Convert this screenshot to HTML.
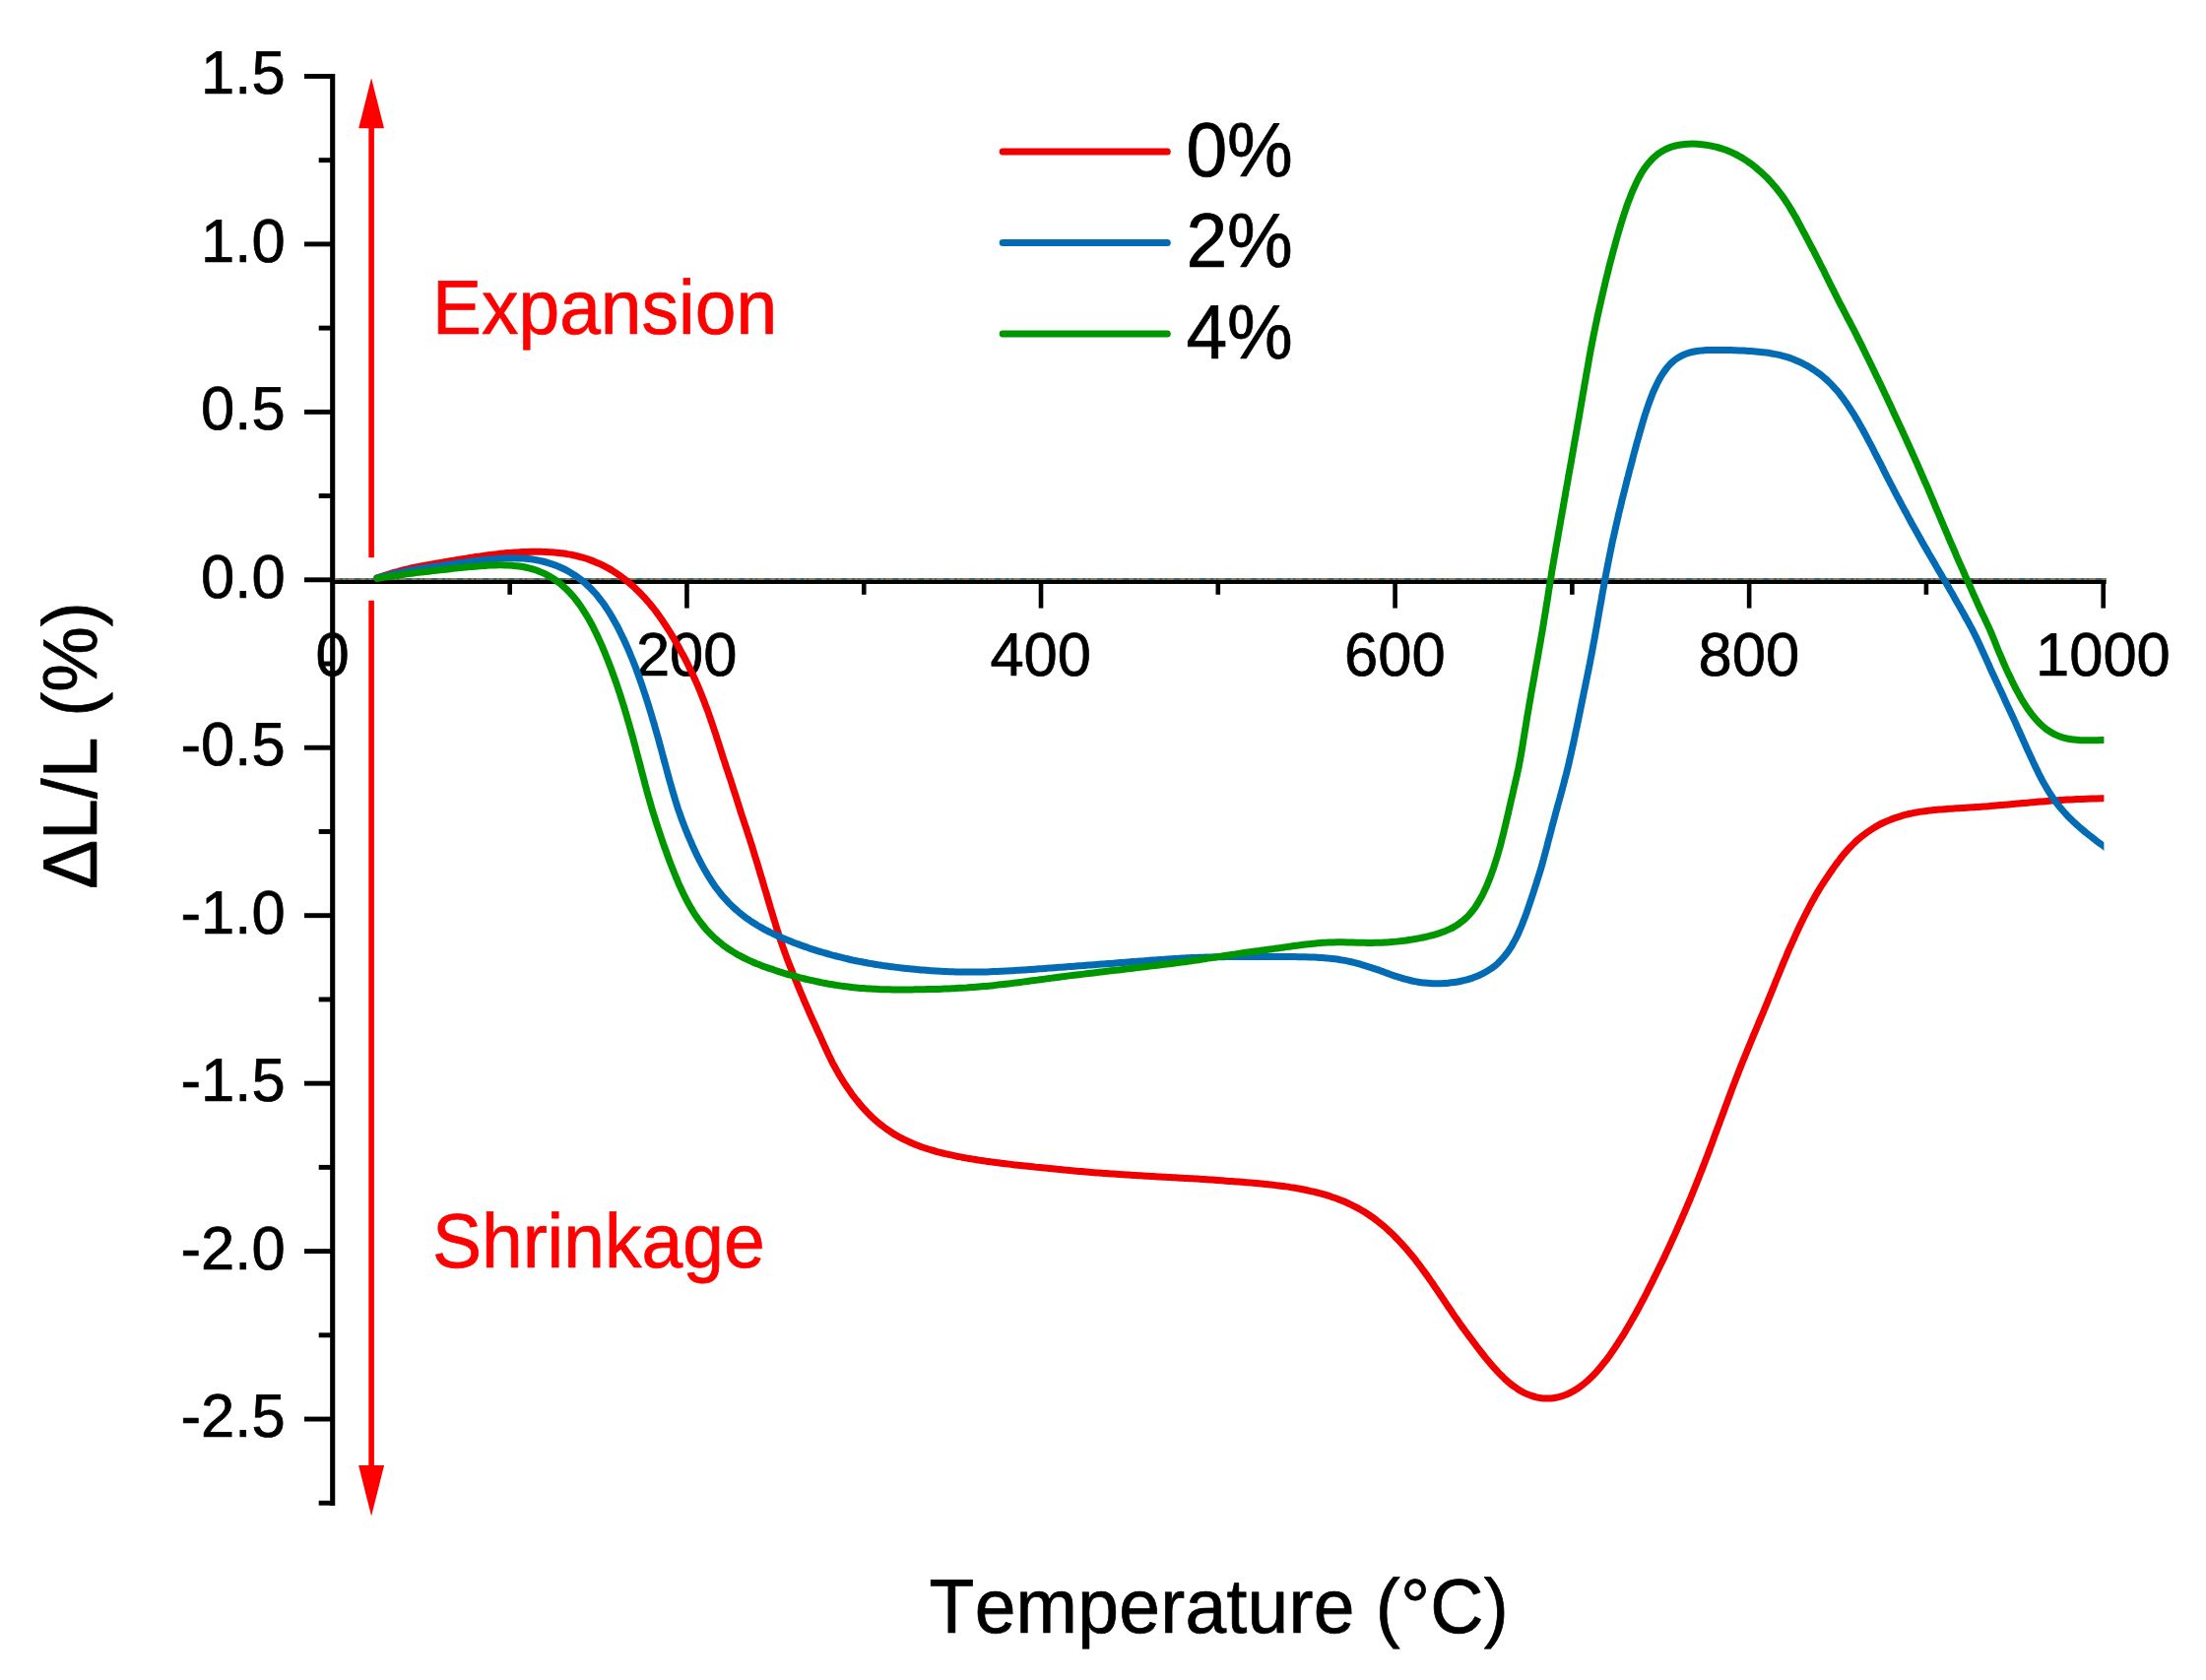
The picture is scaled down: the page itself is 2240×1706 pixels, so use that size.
<!DOCTYPE html>
<html lang="en"><head><meta charset="utf-8"><title>Dilatometry: ΔL/L vs Temperature</title>
<style>
html,body{margin:0;padding:0;background:#fff;}
body{width:2240px;height:1706px;overflow:hidden;}
svg{display:block;}
text{font-family:"Liberation Sans",Arial,Helvetica,sans-serif;fill:#000;stroke:#000;stroke-width:0.70px;stroke-linejoin:round;font-kerning:none;font-variant-ligatures:none;text-rendering:geometricPrecision;}
.tick{font-size:61.5px;}
.big{font-size:75px;}
</style></head><body>
<svg width="2240" height="1706" viewBox="0 0 2240 1706">
<rect width="2240" height="1706" fill="#fff"/>
<defs><clipPath id="plot"><rect x="338.0" y="60" width="1798.4" height="1500"/></clipPath></defs>
<g fill="#ff0000" stroke="none">
<rect x="374.30" y="128" width="5.6" height="438.2"/>
<rect x="374.30" y="609.8" width="5.6" height="880.2"/>
<polygon points="377.1,79.3 364.2,130.2 390.0,130.2"/>
<polygon points="377.1,1539.6 364.1,1488 390.1,1488"/>
</g>
<g fill="#000" stroke="none">
<rect x="335.15" y="75" width="5.1" height="1454.0"/>
<rect x="337.70" y="589.00" width="1801.00" height="4.0"/>
</g>
<g fill="none" stroke-width="2">
<path stroke="#2f6a72" d="M340.2 588 H2138.7"/>
<path stroke="#8a7f58" stroke-dasharray="5 3 3 2 7 6" d="M340.2 588 H2138.7"/>
</g>
<g fill="#000" stroke="none">
<rect x="309.0" y="75.00" width="28.7" height="4.9"/>
<rect x="323.7" y="160.22" width="14.0" height="4.9"/>
<rect x="309.0" y="245.45" width="28.7" height="4.9"/>
<rect x="323.7" y="330.68" width="14.0" height="4.9"/>
<rect x="309.0" y="415.90" width="28.7" height="4.9"/>
<rect x="323.7" y="501.12" width="14.0" height="4.9"/>
<rect x="309.0" y="586.35" width="28.7" height="4.9"/>
<rect x="323.7" y="671.57" width="14.0" height="4.9"/>
<rect x="309.0" y="756.80" width="28.7" height="4.9"/>
<rect x="323.7" y="842.02" width="14.0" height="4.9"/>
<rect x="309.0" y="927.25" width="28.7" height="4.9"/>
<rect x="323.7" y="1012.47" width="14.0" height="4.9"/>
<rect x="309.0" y="1097.70" width="28.7" height="4.9"/>
<rect x="323.7" y="1182.92" width="14.0" height="4.9"/>
<rect x="309.0" y="1268.15" width="28.7" height="4.9"/>
<rect x="323.7" y="1353.37" width="14.0" height="4.9"/>
<rect x="309.0" y="1438.60" width="28.7" height="4.9"/>
<rect x="323.7" y="1523.82" width="14.0" height="4.9"/>
<rect x="515.38" y="591.0" width="4.6" height="12.8"/>
<rect x="695.16" y="591.0" width="4.6" height="26.6"/>
<rect x="874.94" y="591.0" width="4.6" height="12.8"/>
<rect x="1054.72" y="591.0" width="4.6" height="26.6"/>
<rect x="1234.50" y="591.0" width="4.6" height="12.8"/>
<rect x="1414.28" y="591.0" width="4.6" height="26.6"/>
<rect x="1594.06" y="591.0" width="4.6" height="12.8"/>
<rect x="1773.84" y="591.0" width="4.6" height="26.6"/>
<rect x="1953.62" y="591.0" width="4.6" height="12.8"/>
<rect x="2133.40" y="591.0" width="4.6" height="26.6"/>
</g>
<text class="tick" text-anchor="end" transform="translate(289.6 95.4) scale(1 1.010)">1.5</text>
<text class="tick" text-anchor="end" transform="translate(289.6 265.9) scale(1 1.010)">1.0</text>
<text class="tick" text-anchor="end" transform="translate(289.6 436.3) scale(1 1.010)">0.5</text>
<text class="tick" text-anchor="end" transform="translate(289.6 606.8) scale(1 1.010)">0.0</text>
<text class="tick" text-anchor="end" transform="translate(289.6 777.2) scale(1 1.010)">-0.5</text>
<text class="tick" text-anchor="end" transform="translate(289.6 947.7) scale(1 1.010)">-1.0</text>
<text class="tick" text-anchor="end" transform="translate(289.6 1118.1) scale(1 1.010)">-1.5</text>
<text class="tick" text-anchor="end" transform="translate(289.6 1288.6) scale(1 1.010)">-2.0</text>
<text class="tick" text-anchor="end" transform="translate(289.6 1459.0) scale(1 1.010)">-2.5</text>
<text class="tick" text-anchor="middle" transform="translate(337.6 686.2) scale(1 1.010)">0</text>
<text class="tick" text-anchor="middle" transform="translate(697.2 686.2) scale(1 1.010)">200</text>
<text class="tick" text-anchor="middle" transform="translate(1056.7 686.2) scale(1 1.010)">400</text>
<text class="tick" text-anchor="middle" transform="translate(1416.3 686.2) scale(1 1.010)">600</text>
<text class="tick" text-anchor="middle" transform="translate(1775.8 686.2) scale(1 1.010)">800</text>
<text class="tick" text-anchor="middle" transform="translate(2135.4 686.2) scale(1 1.010)">1000</text>
<text class="big" text-anchor="start" transform="translate(943.6 1658.0) scale(1 1.040)" letter-spacing="0.25">Temperature (°C)</text>
<text class="big" text-anchor="start" transform="translate(97.6 903.0) rotate(-90) scale(1 1.040)">ΔL/L (%)</text>
<text class="big" text-anchor="start" transform="translate(438.9 338.7) scale(1 1.040)" style="fill:#ff0000;stroke:#ff0000">Expansion</text>
<text class="big" text-anchor="start" transform="translate(438.9 1287.0) scale(1 1.040)" style="fill:#ff0000;stroke:#ff0000">Shrinkage</text>
<g fill="none" stroke-width="7.0" stroke-linecap="round" stroke-linejoin="round" clip-path="url(#plot)">
<path stroke="#f00000" d="M382.8 586.9C383.6 586.6 386.0 585.8 387.6 585.3C389.2 584.8 390.7 584.3 392.3 583.8C393.9 583.3 395.5 582.8 397.1 582.3C398.7 581.8 400.3 581.3 401.9 580.9C403.5 580.5 405.1 580.0 406.7 579.6C408.3 579.2 410.0 578.8 411.6 578.4C413.2 578.0 414.9 577.6 416.5 577.2C418.1 576.8 419.7 576.5 421.3 576.2C422.9 575.9 424.6 575.5 426.2 575.2C427.8 574.9 429.5 574.6 431.2 574.3C432.9 574.0 434.5 573.7 436.1 573.4C437.7 573.1 439.4 572.8 441.0 572.5C442.6 572.2 444.2 571.9 445.9 571.6C447.5 571.3 449.2 571.1 450.9 570.8C452.5 570.5 454.2 570.2 455.8 569.9C457.4 569.6 459.1 569.4 460.7 569.1C462.3 568.8 464.0 568.6 465.6 568.3C467.2 568.0 469.0 567.8 470.6 567.5C472.2 567.2 473.9 567.0 475.5 566.7C477.1 566.4 478.9 566.1 480.5 565.9C482.1 565.6 483.8 565.4 485.4 565.2C487.0 565.0 488.8 564.7 490.4 564.5C492.0 564.3 493.6 564.0 495.3 563.8C497.0 563.6 498.7 563.4 500.3 563.2C501.9 563.0 503.6 562.8 505.2 562.6C506.8 562.4 508.5 562.3 510.2 562.1C511.9 561.9 513.5 561.8 515.2 561.6C516.9 561.5 518.5 561.3 520.2 561.2C521.9 561.1 523.5 561.0 525.2 560.9C526.9 560.8 528.6 560.7 530.2 560.6C531.9 560.5 533.5 560.5 535.1 560.4C536.8 560.3 538.4 560.3 540.1 560.3C541.8 560.3 543.4 560.2 545.1 560.2C546.8 560.2 548.4 560.2 550.1 560.3C551.8 560.3 553.4 560.4 555.1 560.5C556.8 560.6 558.4 560.7 560.1 560.8C561.8 560.9 563.4 561.0 565.1 561.2C566.8 561.4 568.5 561.6 570.1 561.8C571.8 562.0 573.4 562.2 575.0 562.5C576.6 562.8 578.4 563.0 580.0 563.3C581.6 563.6 583.2 564.0 584.8 564.4C586.4 564.8 588.1 565.2 589.7 565.6C591.3 566.0 592.9 566.5 594.5 567.0C596.1 567.5 597.6 568.0 599.2 568.6C600.8 569.2 602.4 569.8 603.9 570.4C605.4 571.0 607.0 571.7 608.5 572.4C610.0 573.1 611.5 573.8 613.0 574.5C614.5 575.2 615.9 576.1 617.4 576.9C618.9 577.7 620.3 578.5 621.7 579.4C623.1 580.3 624.5 581.2 625.9 582.1C627.3 583.0 628.6 584.0 630.0 585.0C631.4 586.0 632.7 587.0 634.0 588.0C635.3 589.0 636.6 590.0 637.9 591.1C639.2 592.2 640.5 593.3 641.7 594.4C643.0 595.5 644.2 596.6 645.4 597.8C646.6 598.9 647.8 600.1 649.0 601.3C650.2 602.5 651.3 603.6 652.4 604.8C653.5 606.0 654.7 607.2 655.8 608.5C656.9 609.8 658.0 611.0 659.1 612.3C660.2 613.6 661.2 614.9 662.3 616.2C663.3 617.5 664.4 618.8 665.4 620.1C666.4 621.4 667.4 622.8 668.4 624.1C669.4 625.5 670.3 626.8 671.3 628.2C672.2 629.6 673.2 630.9 674.1 632.3C675.0 633.7 675.9 635.1 676.8 636.5C677.7 637.9 678.6 639.3 679.5 640.7C680.4 642.1 681.2 643.6 682.1 645.0C683.0 646.4 683.9 647.9 684.7 649.3C685.6 650.7 686.4 652.1 687.2 653.6C688.0 655.1 688.8 656.5 689.6 658.0C690.4 659.5 691.2 660.8 692.0 662.3C692.8 663.8 693.6 665.2 694.4 666.7C695.2 668.2 696.0 669.7 696.7 671.2C697.5 672.7 698.2 674.1 698.9 675.6C699.6 677.1 700.4 678.6 701.1 680.1C701.8 681.6 702.6 683.2 703.3 684.7C704.0 686.2 704.7 687.7 705.4 689.2C706.1 690.7 706.7 692.3 707.4 693.8C708.1 695.3 708.8 696.9 709.4 698.4C710.0 699.9 710.7 701.5 711.3 703.0C711.9 704.5 712.5 706.1 713.1 707.6C713.7 709.1 714.4 710.7 715.0 712.3C715.6 713.9 716.1 715.5 716.7 717.0C717.3 718.5 717.9 720.0 718.5 721.6C719.1 723.2 719.7 724.8 720.2 726.4C720.8 728.0 721.3 729.5 721.8 731.1C722.3 732.7 722.9 734.2 723.4 735.8C723.9 737.4 724.5 738.9 725.0 740.5C725.5 742.1 726.1 743.7 726.6 745.3C727.1 746.9 727.6 748.4 728.1 750.0C728.6 751.6 729.2 753.2 729.7 754.8C730.2 756.4 730.7 758.0 731.2 759.6C731.7 761.2 732.2 762.7 732.7 764.3C733.2 765.9 733.7 767.5 734.2 769.1C734.7 770.7 735.3 772.2 735.8 773.8C736.3 775.4 736.8 777.0 737.3 778.6C737.8 780.2 738.4 781.7 738.9 783.3C739.4 784.9 740.0 786.5 740.5 788.1C741.0 789.7 741.6 791.2 742.1 792.8C742.6 794.4 743.1 796.0 743.6 797.6C744.1 799.2 744.6 800.8 745.1 802.4C745.6 804.0 746.2 805.5 746.7 807.1C747.2 808.7 747.7 810.3 748.2 811.9C748.7 813.5 749.2 815.0 749.7 816.6C750.2 818.2 750.7 819.8 751.2 821.4C751.7 823.0 752.2 824.6 752.7 826.2C753.2 827.8 753.8 829.3 754.3 830.9C754.8 832.5 755.4 834.1 755.9 835.7C756.4 837.3 757.0 838.8 757.5 840.4C758.0 842.0 758.5 843.6 759.0 845.2C759.5 846.8 760.1 848.3 760.6 849.9C761.1 851.5 761.6 853.1 762.1 854.7C762.6 856.3 763.1 857.8 763.6 859.4C764.1 861.0 764.6 862.6 765.1 864.2C765.6 865.8 766.0 867.4 766.5 869.0C767.0 870.6 767.5 872.2 768.0 873.8C768.5 875.4 769.0 877.0 769.5 878.6C770.0 880.2 770.4 881.7 770.9 883.3C771.4 884.9 771.8 886.5 772.3 888.1C772.8 889.7 773.3 891.3 773.8 892.9C774.3 894.5 774.7 896.1 775.2 897.7C775.7 899.3 776.1 900.9 776.6 902.5C777.1 904.1 777.6 905.7 778.1 907.3C778.6 908.9 779.0 910.5 779.5 912.1C780.0 913.7 780.4 915.3 780.9 916.9C781.4 918.5 781.8 920.1 782.3 921.7C782.8 923.3 783.3 924.9 783.8 926.5C784.3 928.1 784.7 929.7 785.2 931.3C785.7 932.9 786.2 934.4 786.7 936.0C787.2 937.6 787.6 939.2 788.1 940.8C788.6 942.4 789.1 944.0 789.6 945.6C790.1 947.2 790.7 948.7 791.2 950.3C791.7 951.9 792.2 953.5 792.7 955.1C793.2 956.7 793.8 958.2 794.3 959.8C794.8 961.4 795.4 963.0 796.0 964.6C796.6 966.2 797.1 967.8 797.7 969.3C798.3 970.8 798.8 972.3 799.4 973.9C800.0 975.5 800.6 977.0 801.2 978.6C801.8 980.2 802.5 981.8 803.1 983.3C803.7 984.8 804.3 986.4 804.9 987.9C805.5 989.4 806.2 991.0 806.8 992.5C807.4 994.0 808.1 995.6 808.7 997.1C809.3 998.6 810.0 1000.2 810.6 1001.8C811.2 1003.3 811.9 1004.9 812.5 1006.4C813.1 1007.9 813.9 1009.5 814.5 1011.0C815.1 1012.5 815.8 1014.1 816.4 1015.6C817.0 1017.1 817.7 1018.7 818.4 1020.2C819.1 1021.7 819.7 1023.3 820.4 1024.8C821.1 1026.3 821.7 1027.9 822.4 1029.4C823.1 1030.9 823.7 1032.4 824.4 1033.9C825.1 1035.4 825.8 1037.0 826.5 1038.5C827.2 1040.0 827.9 1041.5 828.6 1043.0C829.3 1044.5 829.9 1046.1 830.6 1047.6C831.3 1049.1 832.0 1050.6 832.7 1052.1C833.4 1053.6 834.1 1055.2 834.8 1056.7C835.5 1058.2 836.1 1059.7 836.8 1061.2C837.5 1062.7 838.2 1064.3 838.9 1065.8C839.6 1067.3 840.3 1068.8 841.0 1070.3C841.7 1071.8 842.5 1073.3 843.2 1074.8C843.9 1076.3 844.6 1077.8 845.4 1079.3C846.2 1080.8 847.0 1082.2 847.8 1083.7C848.6 1085.2 849.4 1086.6 850.2 1088.1C851.0 1089.5 851.9 1091.0 852.7 1092.4C853.6 1093.8 854.4 1095.3 855.3 1096.7C856.2 1098.1 857.1 1099.5 858.0 1100.9C858.9 1102.3 859.8 1103.6 860.8 1105.0C861.8 1106.4 862.7 1107.7 863.7 1109.1C864.7 1110.5 865.6 1111.9 866.6 1113.2C867.6 1114.5 868.7 1115.8 869.7 1117.1C870.8 1118.4 871.8 1119.7 872.9 1121.0C874.0 1122.3 875.1 1123.6 876.2 1124.8C877.3 1126.0 878.4 1127.2 879.5 1128.4C880.6 1129.6 881.8 1130.8 883.0 1132.0C884.2 1133.2 885.4 1134.4 886.6 1135.5C887.8 1136.6 889.1 1137.7 890.4 1138.8C891.7 1139.9 892.9 1141.0 894.2 1142.0C895.5 1143.0 896.9 1144.0 898.2 1145.0C899.6 1146.0 900.9 1147.0 902.3 1147.9C903.7 1148.9 905.1 1149.8 906.5 1150.7C907.9 1151.6 909.3 1152.4 910.7 1153.2C912.1 1154.0 913.6 1154.9 915.1 1155.7C916.6 1156.5 918.1 1157.2 919.6 1157.9C921.1 1158.6 922.6 1159.3 924.1 1160.0C925.6 1160.7 927.2 1161.4 928.7 1162.0C930.2 1162.6 931.8 1163.2 933.4 1163.8C935.0 1164.4 936.5 1165.0 938.1 1165.5C939.7 1166.0 941.2 1166.5 942.8 1167.0C944.4 1167.5 946.0 1167.9 947.6 1168.4C949.2 1168.9 950.8 1169.4 952.4 1169.8C954.0 1170.2 955.7 1170.6 957.3 1171.0C958.9 1171.4 960.6 1171.7 962.2 1172.1C963.8 1172.5 965.4 1172.8 967.0 1173.2C968.6 1173.6 970.2 1173.9 971.9 1174.2C973.5 1174.5 975.2 1174.9 976.9 1175.2C978.5 1175.5 980.2 1175.8 981.8 1176.1C983.4 1176.4 985.1 1176.6 986.7 1176.9C988.3 1177.2 990.0 1177.4 991.6 1177.7C993.2 1178.0 995.0 1178.2 996.6 1178.5C998.2 1178.8 999.9 1179.0 1001.5 1179.2C1003.1 1179.4 1004.9 1179.7 1006.5 1179.9C1008.1 1180.1 1009.8 1180.3 1011.4 1180.5C1013.0 1180.7 1014.7 1181.0 1016.4 1181.2C1018.1 1181.4 1019.8 1181.6 1021.4 1181.8C1023.0 1182.0 1024.6 1182.2 1026.3 1182.4C1028.0 1182.6 1029.6 1182.7 1031.3 1182.9C1033.0 1183.1 1034.6 1183.3 1036.3 1183.5C1038.0 1183.7 1039.5 1183.8 1041.2 1184.0C1042.9 1184.2 1044.5 1184.4 1046.2 1184.6C1047.9 1184.8 1049.6 1184.9 1051.2 1185.1C1052.8 1185.3 1054.4 1185.4 1056.1 1185.6C1057.8 1185.8 1059.4 1185.9 1061.1 1186.1C1062.8 1186.3 1064.4 1186.4 1066.1 1186.6C1067.8 1186.8 1069.4 1186.9 1071.1 1187.1C1072.8 1187.3 1074.3 1187.4 1076.0 1187.6C1077.7 1187.8 1079.3 1187.9 1081.0 1188.1C1082.7 1188.2 1084.3 1188.3 1086.0 1188.5C1087.7 1188.7 1089.3 1188.8 1091.0 1189.0C1092.7 1189.2 1094.3 1189.3 1096.0 1189.4C1097.7 1189.5 1099.2 1189.7 1100.9 1189.8C1102.6 1189.9 1104.2 1190.1 1105.9 1190.3C1107.6 1190.5 1109.2 1190.6 1110.9 1190.7C1112.6 1190.8 1114.2 1191.0 1115.9 1191.1C1117.6 1191.2 1119.2 1191.3 1120.9 1191.4C1122.6 1191.5 1124.2 1191.7 1125.9 1191.8C1127.6 1191.9 1129.2 1192.0 1130.9 1192.1C1132.6 1192.2 1134.2 1192.4 1135.8 1192.5C1137.4 1192.6 1139.1 1192.7 1140.8 1192.8C1142.5 1192.9 1144.1 1193.0 1145.8 1193.1C1147.5 1193.2 1149.1 1193.3 1150.8 1193.4C1152.5 1193.5 1154.1 1193.6 1155.8 1193.7C1157.5 1193.8 1159.1 1193.9 1160.8 1194.0C1162.5 1194.1 1164.1 1194.2 1165.8 1194.3C1167.5 1194.4 1169.1 1194.5 1170.8 1194.6C1172.5 1194.7 1174.1 1194.8 1175.8 1194.9C1177.5 1195.0 1179.1 1195.1 1180.8 1195.2C1182.5 1195.3 1184.1 1195.4 1185.8 1195.5C1187.5 1195.6 1189.0 1195.6 1190.7 1195.7C1192.4 1195.8 1194.0 1195.9 1195.7 1196.0C1197.4 1196.1 1199.0 1196.2 1200.7 1196.3C1202.4 1196.4 1204.0 1196.4 1205.7 1196.5C1207.4 1196.6 1209.0 1196.7 1210.7 1196.8C1212.4 1196.9 1214.0 1197.0 1215.7 1197.1C1217.4 1197.2 1219.0 1197.3 1220.7 1197.4C1222.4 1197.5 1224.0 1197.7 1225.7 1197.8C1227.4 1197.9 1229.0 1198.0 1230.7 1198.1C1232.4 1198.2 1234.0 1198.4 1235.7 1198.5C1237.4 1198.6 1239.1 1198.7 1240.7 1198.8C1242.3 1198.9 1243.9 1199.1 1245.6 1199.2C1247.2 1199.3 1248.9 1199.5 1250.6 1199.6C1252.3 1199.7 1253.9 1199.8 1255.6 1199.9C1257.3 1200.0 1258.9 1200.2 1260.6 1200.3C1262.3 1200.4 1263.9 1200.6 1265.6 1200.7C1267.3 1200.8 1268.9 1200.9 1270.6 1201.1C1272.2 1201.2 1273.8 1201.4 1275.5 1201.6C1277.2 1201.8 1278.8 1201.8 1280.5 1202.0C1282.2 1202.2 1283.8 1202.3 1285.5 1202.5C1287.2 1202.7 1288.8 1202.8 1290.5 1203.0C1292.2 1203.2 1293.8 1203.4 1295.4 1203.6C1297.1 1203.8 1298.7 1204.0 1300.4 1204.2C1302.1 1204.4 1303.8 1204.7 1305.4 1204.9C1307.1 1205.1 1308.7 1205.3 1310.3 1205.6C1311.9 1205.8 1313.5 1206.1 1315.2 1206.4C1316.9 1206.7 1318.6 1207.0 1320.2 1207.3C1321.8 1207.6 1323.5 1207.9 1325.1 1208.2C1326.7 1208.5 1328.4 1208.9 1330.0 1209.3C1331.6 1209.7 1333.2 1210.0 1334.8 1210.4C1336.4 1210.8 1338.1 1211.2 1339.7 1211.6C1341.3 1212.0 1342.9 1212.4 1344.5 1212.9C1346.1 1213.4 1347.7 1213.9 1349.3 1214.4C1350.9 1214.9 1352.4 1215.5 1354.0 1216.0C1355.6 1216.5 1357.1 1217.1 1358.7 1217.7C1360.3 1218.3 1361.9 1218.9 1363.4 1219.5C1365.0 1220.1 1366.5 1220.8 1368.0 1221.5C1369.5 1222.2 1371.0 1222.9 1372.5 1223.6C1374.0 1224.3 1375.5 1225.1 1377.0 1225.9C1378.5 1226.7 1379.9 1227.5 1381.3 1228.3C1382.7 1229.1 1384.2 1229.9 1385.6 1230.8C1387.0 1231.7 1388.4 1232.6 1389.8 1233.5C1391.2 1234.4 1392.6 1235.4 1394.0 1236.4C1395.4 1237.4 1396.7 1238.4 1398.0 1239.4C1399.3 1240.4 1400.6 1241.5 1401.9 1242.5C1403.2 1243.5 1404.5 1244.6 1405.7 1245.7C1407.0 1246.8 1408.2 1247.9 1409.4 1249.0C1410.6 1250.1 1411.9 1251.2 1413.1 1252.4C1414.3 1253.6 1415.4 1254.8 1416.6 1256.0C1417.8 1257.2 1418.9 1258.3 1420.1 1259.5C1421.2 1260.7 1422.4 1262.0 1423.5 1263.2C1424.6 1264.4 1425.8 1265.7 1426.9 1266.9C1428.0 1268.2 1429.0 1269.4 1430.1 1270.7C1431.2 1272.0 1432.2 1273.2 1433.3 1274.5C1434.4 1275.8 1435.5 1277.1 1436.5 1278.4C1437.5 1279.7 1438.5 1281.1 1439.5 1282.4C1440.5 1283.7 1441.6 1285.1 1442.6 1286.4C1443.6 1287.7 1444.5 1289.1 1445.5 1290.4C1446.5 1291.8 1447.5 1293.2 1448.5 1294.5C1449.5 1295.8 1450.3 1297.2 1451.3 1298.5C1452.2 1299.8 1453.2 1301.2 1454.2 1302.6C1455.2 1304.0 1456.1 1305.4 1457.0 1306.8C1457.9 1308.2 1458.9 1309.5 1459.8 1310.9C1460.7 1312.3 1461.7 1313.6 1462.6 1315.0C1463.5 1316.4 1464.5 1317.8 1465.4 1319.2C1466.3 1320.6 1467.3 1322.0 1468.2 1323.4C1469.1 1324.8 1470.1 1326.1 1471.0 1327.5C1471.9 1328.9 1472.9 1330.2 1473.8 1331.6C1474.7 1333.0 1475.6 1334.4 1476.6 1335.8C1477.5 1337.2 1478.5 1338.5 1479.5 1339.9C1480.5 1341.3 1481.3 1342.7 1482.3 1344.0C1483.2 1345.3 1484.2 1346.7 1485.2 1348.0C1486.2 1349.3 1487.2 1350.8 1488.2 1352.1C1489.2 1353.4 1490.1 1354.8 1491.1 1356.1C1492.1 1357.4 1493.2 1358.8 1494.2 1360.1C1495.2 1361.4 1496.2 1362.8 1497.2 1364.1C1498.2 1365.4 1499.2 1366.8 1500.2 1368.1C1501.2 1369.4 1502.2 1370.7 1503.2 1372.0C1504.2 1373.3 1505.3 1374.7 1506.3 1376.0C1507.3 1377.3 1508.4 1378.6 1509.4 1379.9C1510.5 1381.2 1511.5 1382.4 1512.6 1383.7C1513.7 1385.0 1514.8 1386.2 1515.9 1387.5C1517.0 1388.8 1518.1 1390.0 1519.2 1391.2C1520.3 1392.4 1521.4 1393.7 1522.6 1394.9C1523.8 1396.1 1525.0 1397.2 1526.2 1398.4C1527.4 1399.6 1528.6 1400.7 1529.8 1401.8C1531.0 1402.9 1532.3 1404.0 1533.6 1405.1C1534.9 1406.1 1536.2 1407.1 1537.6 1408.1C1538.9 1409.1 1540.3 1410.1 1541.7 1411.0C1543.1 1411.9 1544.5 1412.7 1546.0 1413.5C1547.5 1414.3 1549.0 1415.0 1550.5 1415.7C1552.0 1416.4 1553.6 1416.9 1555.2 1417.4C1556.8 1417.9 1558.4 1418.4 1560.0 1418.8C1561.6 1419.2 1563.2 1419.5 1564.9 1419.7C1566.6 1419.9 1568.2 1420.0 1569.9 1420.0C1571.6 1420.0 1573.2 1420.0 1574.9 1419.9C1576.6 1419.8 1578.3 1419.5 1579.9 1419.2C1581.5 1418.9 1583.1 1418.5 1584.7 1418.1C1586.3 1417.6 1587.9 1417.1 1589.5 1416.5C1591.1 1415.9 1592.6 1415.2 1594.1 1414.5C1595.6 1413.8 1597.1 1412.9 1598.5 1412.1C1599.9 1411.3 1601.3 1410.4 1602.7 1409.5C1604.1 1408.6 1605.5 1407.5 1606.8 1406.5C1608.1 1405.5 1609.3 1404.5 1610.6 1403.4C1611.8 1402.3 1613.1 1401.2 1614.3 1400.0C1615.5 1398.8 1616.7 1397.7 1617.9 1396.5C1619.1 1395.3 1620.2 1394.1 1621.3 1392.9C1622.4 1391.7 1623.5 1390.4 1624.6 1389.1C1625.7 1387.8 1626.7 1386.5 1627.7 1385.2C1628.7 1383.9 1629.8 1382.6 1630.8 1381.3C1631.8 1380.0 1632.8 1378.6 1633.8 1377.3C1634.8 1376.0 1635.8 1374.6 1636.7 1373.2C1637.7 1371.8 1638.6 1370.5 1639.5 1369.1C1640.4 1367.7 1641.4 1366.3 1642.3 1364.9C1643.2 1363.5 1644.1 1362.1 1645.0 1360.7C1645.9 1359.3 1646.8 1357.9 1647.7 1356.5C1648.6 1355.1 1649.5 1353.6 1650.3 1352.2C1651.1 1350.8 1651.9 1349.3 1652.8 1347.9C1653.7 1346.5 1654.6 1345.0 1655.4 1343.6C1656.2 1342.1 1657.0 1340.7 1657.8 1339.2C1658.6 1337.8 1659.5 1336.4 1660.3 1334.9C1661.1 1333.5 1661.9 1332.0 1662.7 1330.5C1663.5 1329.0 1664.3 1327.6 1665.1 1326.1C1665.9 1324.6 1666.6 1323.2 1667.4 1321.7C1668.2 1320.2 1669.0 1318.8 1669.8 1317.3C1670.6 1315.8 1671.3 1314.3 1672.1 1312.8C1672.8 1311.3 1673.5 1309.9 1674.3 1308.4C1675.0 1306.9 1675.8 1305.4 1676.6 1303.9C1677.3 1302.4 1678.1 1300.9 1678.8 1299.4C1679.5 1297.9 1680.3 1296.5 1681.0 1295.0C1681.7 1293.5 1682.5 1292.0 1683.2 1290.5C1683.9 1289.0 1684.7 1287.5 1685.4 1286.0C1686.1 1284.5 1686.9 1283.0 1687.6 1281.5C1688.3 1280.0 1689.1 1278.5 1689.8 1277.0C1690.5 1275.5 1691.2 1273.9 1691.9 1272.4C1692.6 1270.9 1693.3 1269.4 1694.0 1267.9C1694.7 1266.4 1695.4 1264.9 1696.1 1263.4C1696.8 1261.9 1697.5 1260.3 1698.2 1258.8C1698.9 1257.3 1699.6 1255.8 1700.3 1254.3C1701.0 1252.8 1701.6 1251.2 1702.3 1249.7C1703.0 1248.2 1703.6 1246.6 1704.3 1245.1C1705.0 1243.6 1705.6 1242.1 1706.3 1240.6C1707.0 1239.1 1707.6 1237.5 1708.3 1236.0C1709.0 1234.5 1709.6 1232.9 1710.3 1231.4C1711.0 1229.9 1711.6 1228.3 1712.3 1226.8C1713.0 1225.3 1713.5 1223.7 1714.2 1222.2C1714.9 1220.7 1715.6 1219.1 1716.2 1217.6C1716.8 1216.0 1717.5 1214.5 1718.1 1212.9C1718.7 1211.4 1719.4 1209.8 1720.0 1208.3C1720.6 1206.8 1721.2 1205.2 1721.8 1203.7C1722.4 1202.2 1723.1 1200.5 1723.7 1199.0C1724.3 1197.5 1724.9 1196.0 1725.5 1194.4C1726.1 1192.9 1726.8 1191.2 1727.4 1189.7C1728.0 1188.2 1728.6 1186.6 1729.2 1185.1C1729.8 1183.5 1730.4 1182.0 1731.0 1180.4C1731.6 1178.9 1732.2 1177.3 1732.8 1175.8C1733.4 1174.2 1734.0 1172.7 1734.6 1171.1C1735.2 1169.5 1735.7 1168.0 1736.3 1166.4C1736.9 1164.8 1737.5 1163.3 1738.1 1161.7C1738.7 1160.1 1739.2 1158.6 1739.8 1157.0C1740.4 1155.4 1740.9 1153.9 1741.5 1152.3C1742.1 1150.7 1742.7 1149.1 1743.3 1147.6C1743.9 1146.0 1744.4 1144.5 1745.0 1143.0C1745.6 1141.5 1746.1 1139.9 1746.7 1138.3C1747.3 1136.7 1747.9 1135.2 1748.5 1133.6C1749.1 1132.0 1749.6 1130.5 1750.2 1128.9C1750.8 1127.3 1751.3 1125.8 1751.9 1124.2C1752.5 1122.6 1753.1 1121.1 1753.7 1119.5C1754.3 1117.9 1754.8 1116.4 1755.4 1114.8C1756.0 1113.2 1756.6 1111.6 1757.2 1110.1C1757.8 1108.5 1758.3 1107.0 1758.9 1105.5C1759.5 1104.0 1760.1 1102.4 1760.7 1100.8C1761.3 1099.2 1761.9 1097.7 1762.5 1096.1C1763.1 1094.5 1763.7 1093.0 1764.3 1091.4C1764.9 1089.9 1765.5 1088.3 1766.1 1086.8C1766.7 1085.2 1767.3 1083.6 1767.9 1082.1C1768.5 1080.5 1769.2 1079.0 1769.8 1077.5C1770.4 1076.0 1771.1 1074.5 1771.7 1072.9C1772.3 1071.4 1773.0 1069.8 1773.6 1068.2C1774.2 1066.7 1774.9 1065.1 1775.5 1063.6C1776.1 1062.1 1776.8 1060.5 1777.4 1059.0C1778.0 1057.5 1778.7 1055.9 1779.3 1054.4C1779.9 1052.9 1780.5 1051.3 1781.2 1049.8C1781.9 1048.2 1782.6 1046.6 1783.2 1045.1C1783.8 1043.5 1784.5 1042.0 1785.1 1040.5C1785.7 1039.0 1786.3 1037.4 1787.0 1035.9C1787.7 1034.4 1788.3 1032.8 1789.0 1031.3C1789.7 1029.8 1790.3 1028.2 1790.9 1026.7C1791.5 1025.2 1792.2 1023.6 1792.8 1022.1C1793.4 1020.6 1794.1 1019.0 1794.7 1017.5C1795.3 1016.0 1796.0 1014.3 1796.6 1012.8C1797.2 1011.2 1797.9 1009.7 1798.5 1008.2C1799.1 1006.7 1799.8 1005.2 1800.4 1003.6C1801.0 1002.0 1801.6 1000.5 1802.2 998.9C1802.8 997.3 1803.5 995.8 1804.1 994.3C1804.7 992.8 1805.4 991.2 1806.0 989.7C1806.6 988.2 1807.3 986.5 1807.9 985.0C1808.5 983.5 1809.2 981.9 1809.8 980.4C1810.4 978.9 1811.0 977.3 1811.7 975.8C1812.4 974.3 1813.1 972.7 1813.7 971.2C1814.3 969.7 1814.9 968.1 1815.6 966.6C1816.2 965.1 1816.9 963.5 1817.6 962.0C1818.3 960.5 1819.0 958.9 1819.7 957.4C1820.4 955.9 1821.0 954.4 1821.7 952.9C1822.4 951.4 1823.1 949.8 1823.8 948.3C1824.5 946.8 1825.2 945.3 1825.9 943.8C1826.6 942.3 1827.3 940.8 1828.0 939.3C1828.7 937.8 1829.5 936.3 1830.2 934.8C1830.9 933.3 1831.7 931.8 1832.4 930.3C1833.2 928.8 1833.9 927.3 1834.7 925.8C1835.5 924.3 1836.2 922.9 1837.0 921.4C1837.8 919.9 1838.5 918.5 1839.3 917.0C1840.1 915.5 1841.0 914.1 1841.8 912.6C1842.6 911.1 1843.4 909.7 1844.2 908.3C1845.0 906.9 1845.9 905.4 1846.8 904.0C1847.7 902.6 1848.5 901.1 1849.4 899.7C1850.3 898.3 1851.2 896.9 1852.1 895.5C1853.0 894.1 1854.0 892.7 1854.9 891.3C1855.8 889.9 1856.8 888.6 1857.7 887.2C1858.6 885.8 1859.5 884.5 1860.5 883.1C1861.5 881.7 1862.4 880.4 1863.4 879.0C1864.4 877.6 1865.4 876.3 1866.4 875.0C1867.4 873.7 1868.4 872.3 1869.4 871.0C1870.4 869.7 1871.5 868.4 1872.6 867.1C1873.7 865.8 1874.7 864.5 1875.8 863.3C1876.9 862.1 1878.0 860.9 1879.2 859.7C1880.4 858.5 1881.6 857.3 1882.8 856.1C1884.0 854.9 1885.2 853.8 1886.4 852.7C1887.6 851.6 1888.9 850.5 1890.2 849.5C1891.5 848.5 1892.9 847.4 1894.2 846.4C1895.5 845.4 1896.9 844.5 1898.3 843.6C1899.7 842.7 1901.1 841.8 1902.5 840.9C1903.9 840.0 1905.3 839.1 1906.8 838.3C1908.2 837.5 1909.7 836.7 1911.2 836.0C1912.7 835.3 1914.3 834.6 1915.8 833.9C1917.3 833.2 1918.9 832.6 1920.4 832.0C1922.0 831.4 1923.5 830.8 1925.1 830.3C1926.7 829.8 1928.3 829.3 1929.9 828.8C1931.5 828.3 1933.1 827.8 1934.7 827.4C1936.3 827.0 1937.9 826.6 1939.5 826.3C1941.1 825.9 1942.8 825.6 1944.4 825.3C1946.1 825.0 1947.8 824.7 1949.4 824.4C1951.1 824.1 1952.7 823.9 1954.3 823.7C1955.9 823.5 1957.6 823.3 1959.3 823.1C1961.0 822.9 1962.5 822.8 1964.2 822.6C1965.9 822.4 1967.5 822.2 1969.2 822.1C1970.9 822.0 1972.5 821.8 1974.2 821.7C1975.9 821.6 1977.5 821.4 1979.2 821.3C1980.9 821.2 1982.5 821.1 1984.2 821.0C1985.9 820.9 1987.5 820.8 1989.2 820.7C1990.9 820.6 1992.5 820.5 1994.2 820.4C1995.9 820.3 1997.6 820.2 1999.2 820.1C2000.8 820.0 2002.4 819.9 2004.1 819.8C2005.8 819.7 2007.4 819.5 2009.1 819.4C2010.8 819.3 2012.4 819.2 2014.1 819.1C2015.8 819.0 2017.4 818.9 2019.1 818.7C2020.8 818.6 2022.4 818.4 2024.1 818.2C2025.8 818.1 2027.4 817.9 2029.1 817.8C2030.8 817.7 2032.4 817.5 2034.1 817.4C2035.8 817.2 2037.3 817.0 2039.0 816.9C2040.7 816.8 2042.3 816.6 2044.0 816.5C2045.7 816.4 2047.3 816.1 2049.0 816.0C2050.7 815.9 2052.3 815.7 2054.0 815.6C2055.7 815.5 2057.3 815.4 2059.0 815.2C2060.7 815.1 2062.2 814.9 2063.9 814.7C2065.6 814.6 2067.2 814.4 2068.9 814.3C2070.6 814.2 2072.2 814.0 2073.9 813.9C2075.6 813.8 2077.2 813.6 2078.9 813.5C2080.6 813.4 2082.2 813.2 2083.9 813.1C2085.6 813.0 2087.2 812.9 2088.9 812.8C2090.6 812.7 2092.2 812.5 2093.8 812.4C2095.5 812.3 2097.1 812.2 2098.8 812.1C2100.5 812.0 2102.1 812.0 2103.8 811.9C2105.5 811.8 2107.1 811.7 2108.8 811.6C2110.5 811.5 2112.1 811.5 2113.8 811.4C2115.5 811.3 2117.1 811.2 2118.8 811.2C2120.5 811.2 2122.1 811.2 2123.8 811.1C2125.5 811.0 2127.1 811.0 2128.8 810.9C2130.5 810.8 2132.1 810.8 2133.8 810.8C2135.5 810.8 2137.1 810.7 2138.8 810.6C2140.5 810.5 2142.1 810.5 2143.8 810.4C2145.5 810.3 2147.1 810.3 2148.8 810.2C2150.5 810.1 2152.1 810.1 2153.8 810.0C2155.5 809.9 2158.0 809.8 2158.8 809.8"/>
<path stroke="#036bb3" d="M383.0 587.0C383.8 586.8 386.2 586.1 387.8 585.7C389.4 585.3 391.1 584.9 392.7 584.5C394.3 584.1 395.9 583.7 397.5 583.3C399.1 582.9 400.8 582.5 402.4 582.1C404.0 581.7 405.7 581.4 407.3 581.1C408.9 580.8 410.6 580.4 412.2 580.1C413.8 579.8 415.5 579.4 417.1 579.1C418.7 578.8 420.4 578.5 422.0 578.2C423.6 577.9 425.2 577.7 426.9 577.4C428.5 577.1 430.2 576.9 431.9 576.6C433.5 576.4 435.2 576.1 436.8 575.9C438.4 575.7 440.1 575.5 441.7 575.2C443.3 575.0 445.0 574.6 446.7 574.4C448.4 574.1 450.0 573.9 451.6 573.7C453.2 573.5 455.0 573.2 456.6 573.0C458.2 572.8 459.9 572.5 461.5 572.3C463.1 572.1 464.8 571.8 466.5 571.6C468.2 571.4 469.9 571.2 471.5 571.0C473.1 570.8 474.8 570.5 476.4 570.3C478.0 570.1 479.8 569.9 481.4 569.7C483.0 569.5 484.6 569.3 486.3 569.1C488.0 568.9 489.6 568.8 491.3 568.6C493.0 568.4 494.6 568.2 496.3 568.1C498.0 568.0 499.6 567.8 501.3 567.7C503.0 567.6 504.7 567.4 506.3 567.3C507.9 567.2 509.5 567.1 511.2 567.0C512.9 566.9 514.5 566.8 516.2 566.8C517.9 566.8 519.5 566.8 521.2 566.8C522.9 566.8 524.5 566.8 526.2 566.9C527.9 567.0 529.5 567.0 531.2 567.1C532.9 567.2 534.5 567.3 536.2 567.5C537.9 567.7 539.6 567.9 541.2 568.1C542.9 568.4 544.5 568.7 546.1 569.0C547.7 569.3 549.4 569.6 551.0 570.0C552.6 570.4 554.2 570.8 555.8 571.3C557.4 571.8 559.0 572.3 560.6 572.8C562.2 573.3 563.8 573.9 565.3 574.5C566.8 575.1 568.4 575.8 569.9 576.5C571.4 577.2 572.9 577.9 574.4 578.7C575.9 579.5 577.3 580.2 578.7 581.1C580.1 582.0 581.6 582.9 583.0 583.8C584.4 584.7 585.8 585.6 587.1 586.6C588.5 587.6 589.8 588.6 591.1 589.6C592.4 590.6 593.7 591.8 594.9 592.9C596.1 594.0 597.3 595.1 598.5 596.3C599.7 597.5 600.9 598.7 602.0 599.9C603.1 601.1 604.3 602.3 605.4 603.6C606.5 604.9 607.5 606.2 608.5 607.5C609.5 608.8 610.6 610.1 611.6 611.4C612.6 612.7 613.6 614.1 614.5 615.5C615.4 616.9 616.3 618.3 617.2 619.7C618.1 621.1 619.0 622.5 619.9 623.9C620.8 625.3 621.6 626.8 622.4 628.2C623.2 629.7 624.1 631.1 624.9 632.6C625.7 634.1 626.5 635.5 627.3 637.0C628.1 638.5 628.8 639.9 629.5 641.4C630.2 642.9 631.0 644.4 631.7 645.9C632.4 647.4 633.2 648.9 633.9 650.4C634.6 651.9 635.2 653.5 635.9 655.0C636.6 656.5 637.3 658.1 638.0 659.6C638.7 661.1 639.3 662.7 639.9 664.2C640.5 665.7 641.2 667.3 641.8 668.8C642.4 670.3 643.1 671.8 643.7 673.4C644.3 675.0 644.9 676.5 645.5 678.1C646.1 679.7 646.6 681.2 647.2 682.8C647.8 684.4 648.3 685.9 648.9 687.5C649.5 689.1 650.0 690.6 650.6 692.2C651.2 693.8 651.7 695.3 652.2 696.9C652.7 698.5 653.3 700.1 653.8 701.7C654.3 703.3 654.9 704.8 655.4 706.4C655.9 708.0 656.4 709.6 656.9 711.2C657.4 712.8 657.9 714.3 658.4 715.9C658.9 717.5 659.4 719.1 659.9 720.7C660.4 722.3 660.8 723.9 661.3 725.5C661.8 727.1 662.2 728.7 662.7 730.3C663.2 731.9 663.7 733.5 664.2 735.1C664.7 736.7 665.0 738.3 665.5 739.9C666.0 741.5 666.4 743.1 666.9 744.7C667.4 746.3 667.8 747.9 668.3 749.5C668.8 751.1 669.2 752.7 669.6 754.3C670.0 755.9 670.5 757.6 670.9 759.2C671.3 760.8 671.8 762.4 672.2 764.0C672.6 765.6 673.1 767.2 673.5 768.8C673.9 770.4 674.4 772.1 674.8 773.7C675.2 775.3 675.7 776.9 676.1 778.5C676.5 780.1 677.0 781.7 677.4 783.3C677.8 784.9 678.3 786.5 678.7 788.1C679.1 789.7 679.5 791.4 680.0 793.0C680.5 794.6 680.9 796.2 681.4 797.8C681.9 799.4 682.3 801.0 682.8 802.6C683.3 804.2 683.7 805.8 684.2 807.4C684.7 809.0 685.1 810.6 685.6 812.2C686.1 813.8 686.6 815.3 687.1 816.9C687.6 818.5 688.1 820.1 688.6 821.7C689.1 823.3 689.8 824.8 690.3 826.4C690.8 828.0 691.3 829.5 691.9 831.1C692.5 832.7 693.1 834.2 693.7 835.8C694.3 837.4 694.9 839.0 695.5 840.5C696.1 842.0 696.8 843.6 697.4 845.1C698.0 846.6 698.6 848.2 699.3 849.7C699.9 851.2 700.6 852.8 701.3 854.3C702.0 855.8 702.6 857.4 703.3 858.9C704.0 860.4 704.7 862.0 705.4 863.5C706.1 865.0 706.8 866.5 707.5 868.0C708.2 869.5 709.0 871.0 709.7 872.5C710.5 874.0 711.2 875.4 712.0 876.9C712.8 878.4 713.6 879.8 714.4 881.3C715.2 882.8 716.1 884.2 716.9 885.6C717.7 887.0 718.5 888.5 719.4 889.9C720.3 891.3 721.2 892.7 722.1 894.1C723.0 895.5 724.0 896.9 724.9 898.3C725.8 899.7 726.8 901.1 727.8 902.4C728.8 903.7 729.9 905.0 730.9 906.3C731.9 907.6 732.9 908.9 734.0 910.2C735.1 911.5 736.3 912.7 737.4 913.9C738.5 915.1 739.6 916.4 740.8 917.6C742.0 918.8 743.2 920.0 744.4 921.1C745.6 922.2 746.9 923.3 748.1 924.4C749.4 925.5 750.6 926.7 751.9 927.7C753.2 928.8 754.5 929.7 755.8 930.7C757.1 931.7 758.5 932.7 759.9 933.7C761.3 934.7 762.6 935.6 764.0 936.5C765.4 937.4 766.8 938.2 768.2 939.1C769.6 940.0 771.0 940.9 772.5 941.7C774.0 942.5 775.4 943.3 776.9 944.1C778.4 944.9 779.9 945.6 781.4 946.4C782.9 947.1 784.3 947.9 785.8 948.6C787.3 949.3 788.9 950.0 790.4 950.7C791.9 951.4 793.5 952.1 795.0 952.7C796.5 953.4 798.1 954.0 799.6 954.6C801.1 955.2 802.7 955.9 804.2 956.5C805.8 957.1 807.3 957.7 808.9 958.3C810.5 958.9 812.0 959.4 813.6 960.0C815.2 960.6 816.7 961.2 818.3 961.7C819.9 962.2 821.4 962.8 823.0 963.3C824.6 963.8 826.2 964.3 827.8 964.8C829.4 965.3 831.0 965.8 832.6 966.3C834.2 966.8 835.8 967.2 837.4 967.7C839.0 968.2 840.6 968.7 842.2 969.1C843.8 969.5 845.4 970.0 847.0 970.4C848.6 970.8 850.2 971.2 851.8 971.6C853.4 972.0 855.1 972.4 856.7 972.8C858.3 973.2 860.0 973.6 861.6 974.0C863.2 974.4 864.8 974.8 866.4 975.1C868.0 975.5 869.7 975.8 871.3 976.1C872.9 976.4 874.6 976.7 876.2 977.0C877.8 977.3 879.5 977.7 881.1 978.0C882.8 978.3 884.5 978.5 886.1 978.8C887.8 979.1 889.4 979.3 891.0 979.6C892.6 979.9 894.2 980.1 895.9 980.4C897.5 980.6 899.2 980.9 900.9 981.1C902.6 981.3 904.2 981.6 905.9 981.8C907.5 982.0 909.1 982.2 910.8 982.4C912.4 982.6 914.1 982.8 915.8 983.0C917.5 983.2 919.1 983.3 920.8 983.5C922.4 983.7 924.1 983.8 925.7 984.0C927.4 984.2 929.0 984.4 930.7 984.5C932.4 984.6 934.0 984.8 935.7 984.9C937.4 985.0 939.0 985.2 940.7 985.3C942.4 985.4 944.1 985.6 945.7 985.7C947.4 985.8 949.0 985.9 950.6 986.0C952.2 986.1 953.9 986.2 955.6 986.3C957.3 986.4 958.9 986.5 960.6 986.6C962.3 986.7 963.9 986.8 965.6 986.8C967.3 986.8 968.9 986.9 970.6 986.9C972.3 986.9 973.9 987.0 975.6 987.0C977.3 987.0 978.9 987.1 980.6 987.1C982.3 987.1 983.9 987.1 985.6 987.1C987.3 987.1 988.9 987.0 990.6 987.0C992.3 987.0 993.9 987.0 995.6 987.0C997.3 987.0 998.9 986.9 1000.6 986.9C1002.3 986.9 1003.9 986.8 1005.6 986.7C1007.3 986.6 1008.9 986.6 1010.6 986.5C1012.3 986.4 1013.9 986.4 1015.6 986.3C1017.3 986.2 1018.9 986.2 1020.6 986.1C1022.3 986.0 1023.9 985.9 1025.6 985.8C1027.3 985.7 1028.9 985.6 1030.6 985.5C1032.3 985.4 1033.9 985.3 1035.6 985.2C1037.3 985.1 1038.9 985.0 1040.6 984.9C1042.3 984.8 1043.9 984.7 1045.6 984.6C1047.2 984.5 1048.8 984.3 1050.5 984.2C1052.2 984.1 1053.8 983.9 1055.5 983.8C1057.2 983.7 1058.8 983.6 1060.5 983.5C1062.2 983.4 1063.8 983.2 1065.5 983.1C1067.2 983.0 1068.8 982.8 1070.5 982.7C1072.2 982.6 1073.8 982.4 1075.5 982.3C1077.2 982.2 1078.8 982.1 1080.5 982.0C1082.2 981.9 1083.8 981.7 1085.4 981.6C1087.1 981.5 1088.7 981.3 1090.4 981.2C1092.1 981.1 1093.7 980.9 1095.4 980.8C1097.1 980.7 1098.7 980.6 1100.4 980.5C1102.1 980.4 1103.7 980.2 1105.4 980.1C1107.1 980.0 1108.7 979.8 1110.4 979.7C1112.1 979.6 1113.8 979.4 1115.4 979.3C1117.1 979.2 1118.7 979.0 1120.3 978.9C1121.9 978.8 1123.6 978.7 1125.3 978.6C1127.0 978.5 1128.6 978.3 1130.3 978.2C1132.0 978.1 1133.6 977.9 1135.3 977.8C1137.0 977.7 1138.6 977.5 1140.3 977.4C1142.0 977.3 1143.6 977.1 1145.3 977.0C1147.0 976.9 1148.6 976.7 1150.3 976.6C1152.0 976.5 1153.5 976.4 1155.2 976.3C1156.9 976.2 1158.5 976.0 1160.2 975.9C1161.9 975.8 1163.5 975.6 1165.2 975.5C1166.9 975.4 1168.5 975.2 1170.2 975.1C1171.9 975.0 1173.5 974.8 1175.2 974.7C1176.9 974.6 1178.5 974.5 1180.2 974.4C1181.9 974.3 1183.6 974.1 1185.2 974.0C1186.8 973.9 1188.4 973.8 1190.1 973.7C1191.8 973.6 1193.4 973.5 1195.1 973.4C1196.8 973.3 1198.4 973.2 1200.1 973.1C1201.8 973.0 1203.4 972.9 1205.1 972.8C1206.8 972.7 1208.4 972.7 1210.1 972.6C1211.8 972.5 1213.4 972.5 1215.1 972.4C1216.8 972.3 1218.4 972.3 1220.1 972.2C1221.8 972.1 1223.4 972.0 1225.1 972.0C1226.8 972.0 1228.4 971.9 1230.1 971.9C1231.8 971.9 1233.4 971.8 1235.1 971.8C1236.8 971.8 1238.4 971.7 1240.1 971.7C1241.8 971.7 1243.4 971.6 1245.1 971.6C1246.8 971.6 1248.4 971.5 1250.1 971.5C1251.8 971.5 1253.4 971.5 1255.1 971.5C1256.8 971.5 1258.4 971.5 1260.1 971.5C1261.8 971.5 1263.4 971.4 1265.1 971.4C1266.8 971.4 1268.4 971.4 1270.1 971.4C1271.8 971.4 1273.4 971.4 1275.1 971.4C1276.8 971.4 1278.4 971.4 1280.1 971.4C1281.8 971.4 1283.4 971.4 1285.1 971.4C1286.8 971.4 1288.4 971.5 1290.1 971.5C1291.8 971.5 1293.4 971.5 1295.1 971.5C1296.8 971.5 1298.4 971.5 1300.1 971.5C1301.8 971.5 1303.4 971.5 1305.1 971.5C1306.8 971.5 1308.4 971.6 1310.1 971.6C1311.8 971.6 1313.4 971.6 1315.1 971.6C1316.8 971.6 1318.4 971.7 1320.1 971.7C1321.8 971.7 1323.4 971.8 1325.1 971.8C1326.8 971.8 1328.4 971.8 1330.1 971.9C1331.8 972.0 1333.4 972.0 1335.1 972.1C1336.8 972.2 1338.4 972.3 1340.1 972.4C1341.8 972.5 1343.4 972.6 1345.1 972.7C1346.8 972.8 1348.4 973.0 1350.1 973.2C1351.8 973.4 1353.3 973.6 1355.0 973.8C1356.7 974.0 1358.3 974.2 1360.0 974.5C1361.7 974.8 1363.3 975.0 1364.9 975.3C1366.5 975.6 1368.2 975.9 1369.8 976.3C1371.4 976.6 1373.1 977.0 1374.7 977.4C1376.3 977.8 1377.9 978.2 1379.5 978.7C1381.1 979.2 1382.7 979.6 1384.3 980.1C1385.9 980.6 1387.5 981.1 1389.1 981.6C1390.7 982.1 1392.2 982.6 1393.8 983.1C1395.4 983.6 1397.0 984.2 1398.6 984.7C1400.2 985.2 1401.7 985.8 1403.3 986.4C1404.9 987.0 1406.4 987.5 1408.0 988.1C1409.6 988.7 1411.1 989.2 1412.7 989.8C1414.3 990.3 1415.8 990.9 1417.4 991.4C1419.0 991.9 1420.6 992.4 1422.2 992.9C1423.8 993.4 1425.4 993.9 1427.0 994.3C1428.6 994.7 1430.2 995.1 1431.8 995.5C1433.4 995.9 1435.0 996.3 1436.7 996.6C1438.4 996.9 1440.1 997.2 1441.7 997.5C1443.3 997.8 1444.9 997.9 1446.6 998.1C1448.2 998.3 1449.9 998.5 1451.6 998.6C1453.3 998.7 1454.9 998.8 1456.6 998.8C1458.3 998.8 1459.9 998.8 1461.6 998.8C1463.3 998.8 1464.9 998.7 1466.6 998.6C1468.3 998.5 1469.9 998.3 1471.6 998.1C1473.2 997.9 1474.9 997.7 1476.5 997.5C1478.1 997.3 1479.8 997.0 1481.4 996.7C1483.0 996.4 1484.7 996.0 1486.3 995.6C1487.9 995.2 1489.6 994.8 1491.2 994.3C1492.8 993.8 1494.3 993.3 1495.9 992.8C1497.5 992.2 1499.1 991.6 1500.6 991.0C1502.1 990.4 1503.6 989.6 1505.1 988.9C1506.6 988.1 1508.1 987.3 1509.5 986.5C1510.9 985.7 1512.3 984.8 1513.7 983.9C1515.1 983.0 1516.5 981.9 1517.8 980.9C1519.1 979.9 1520.3 978.8 1521.5 977.6C1522.7 976.5 1523.9 975.2 1525.0 974.0C1526.1 972.8 1527.2 971.5 1528.3 970.2C1529.3 968.9 1530.3 967.6 1531.3 966.3C1532.3 964.9 1533.2 963.5 1534.1 962.1C1535.0 960.7 1535.8 959.2 1536.6 957.8C1537.4 956.3 1538.2 954.9 1539.0 953.4C1539.8 951.9 1540.5 950.4 1541.2 948.9C1541.9 947.4 1542.5 945.8 1543.2 944.3C1543.9 942.8 1544.6 941.2 1545.2 939.7C1545.8 938.2 1546.4 936.7 1547.0 935.1C1547.6 933.5 1548.2 932.0 1548.8 930.4C1549.4 928.8 1550.0 927.3 1550.5 925.7C1551.0 924.1 1551.6 922.6 1552.1 921.0C1552.6 919.4 1553.2 917.8 1553.7 916.2C1554.2 914.6 1554.8 913.1 1555.3 911.5C1555.8 909.9 1556.4 908.3 1556.9 906.7C1557.4 905.1 1557.9 903.6 1558.4 902.0C1558.9 900.4 1559.4 898.8 1559.9 897.2C1560.4 895.6 1560.9 894.1 1561.4 892.5C1561.9 890.9 1562.4 889.3 1562.9 887.7C1563.4 886.1 1563.9 884.5 1564.4 882.9C1564.9 881.3 1565.3 879.7 1565.8 878.1C1566.2 876.5 1566.7 874.9 1567.1 873.3C1567.5 871.7 1568.0 870.1 1568.4 868.5C1568.8 866.9 1569.3 865.2 1569.7 863.6C1570.1 862.0 1570.6 860.4 1571.0 858.8C1571.4 857.2 1571.8 855.5 1572.2 853.9C1572.6 852.3 1573.1 850.7 1573.5 849.1C1573.9 847.5 1574.4 845.9 1574.8 844.3C1575.2 842.7 1575.6 841.0 1576.0 839.4C1576.4 837.8 1576.9 836.2 1577.3 834.6C1577.7 833.0 1578.2 831.4 1578.6 829.8C1579.0 828.2 1579.5 826.5 1579.9 824.9C1580.3 823.3 1580.8 821.7 1581.2 820.1C1581.6 818.5 1582.0 816.9 1582.5 815.3C1583.0 813.7 1583.5 812.1 1583.9 810.5C1584.4 808.9 1584.8 807.2 1585.2 805.6C1585.6 804.0 1586.1 802.4 1586.5 800.8C1586.9 799.2 1587.4 797.6 1587.8 796.0C1588.2 794.4 1588.6 792.7 1589.0 791.1C1589.4 789.5 1589.9 787.9 1590.3 786.3C1590.7 784.7 1591.1 783.1 1591.5 781.5C1591.9 779.9 1592.3 778.2 1592.7 776.6C1593.1 775.0 1593.4 773.3 1593.8 771.7C1594.2 770.1 1594.5 768.5 1594.9 766.9C1595.3 765.3 1595.6 763.6 1596.0 762.0C1596.4 760.4 1596.7 758.7 1597.1 757.1C1597.5 755.5 1597.8 753.8 1598.2 752.2C1598.6 750.6 1598.9 748.9 1599.2 747.3C1599.5 745.7 1599.9 744.0 1600.2 742.4C1600.5 740.8 1601.0 739.1 1601.3 737.5C1601.6 735.9 1602.0 734.2 1602.3 732.6C1602.6 731.0 1603.0 729.3 1603.3 727.7C1603.6 726.1 1604.0 724.4 1604.3 722.8C1604.6 721.2 1605.0 719.5 1605.3 717.9C1605.6 716.3 1606.0 714.6 1606.3 713.0C1606.6 711.4 1607.0 709.7 1607.3 708.1C1607.6 706.5 1608.0 704.8 1608.3 703.2C1608.6 701.6 1609.0 700.0 1609.3 698.4C1609.6 696.8 1610.0 695.1 1610.3 693.5C1610.6 691.9 1611.0 690.2 1611.3 688.6C1611.6 687.0 1612.0 685.3 1612.3 683.7C1612.6 682.1 1613.0 680.4 1613.3 678.8C1613.6 677.2 1614.0 675.5 1614.3 673.9C1614.6 672.2 1614.9 670.5 1615.2 668.9C1615.5 667.2 1615.9 665.6 1616.2 664.0C1616.5 662.4 1616.8 660.7 1617.1 659.1C1617.4 657.5 1617.7 655.8 1618.0 654.2C1618.3 652.6 1618.6 650.9 1618.9 649.3C1619.2 647.7 1619.5 646.0 1619.8 644.4C1620.1 642.8 1620.4 641.0 1620.7 639.4C1621.0 637.8 1621.3 636.1 1621.6 634.5C1621.9 632.9 1622.1 631.2 1622.4 629.6C1622.7 628.0 1623.0 626.4 1623.3 624.7C1623.6 623.1 1623.8 621.4 1624.1 619.7C1624.4 618.1 1624.7 616.4 1625.0 614.8C1625.3 613.2 1625.6 611.5 1625.9 609.9C1626.2 608.3 1626.4 606.6 1626.7 605.0C1627.0 603.4 1627.3 601.6 1627.6 600.0C1627.9 598.4 1628.2 596.7 1628.5 595.1C1628.8 593.5 1629.1 591.8 1629.4 590.2C1629.7 588.6 1630.0 586.9 1630.3 585.3C1630.6 583.7 1630.9 582.0 1631.2 580.4C1631.5 578.8 1631.9 577.1 1632.2 575.5C1632.5 573.9 1632.8 572.2 1633.1 570.6C1633.4 569.0 1633.8 567.3 1634.1 565.7C1634.4 564.1 1634.8 562.4 1635.1 560.8C1635.4 559.2 1635.8 557.5 1636.1 555.9C1636.4 554.3 1636.8 552.6 1637.1 551.0C1637.4 549.4 1637.8 547.7 1638.2 546.1C1638.6 544.5 1638.9 542.8 1639.3 541.2C1639.7 539.6 1640.0 537.9 1640.4 536.3C1640.8 534.7 1641.1 533.0 1641.5 531.4C1641.9 529.8 1642.2 528.2 1642.6 526.6C1643.0 525.0 1643.3 523.3 1643.7 521.7C1644.1 520.1 1644.5 518.4 1644.9 516.8C1645.3 515.2 1645.7 513.6 1646.1 512.0C1646.5 510.4 1646.8 508.7 1647.2 507.1C1647.6 505.5 1648.0 503.9 1648.4 502.3C1648.8 500.7 1649.3 499.0 1649.7 497.4C1650.1 495.8 1650.5 494.2 1650.9 492.6C1651.3 491.0 1651.7 489.3 1652.1 487.7C1652.5 486.1 1653.0 484.5 1653.4 482.9C1653.8 481.3 1654.2 479.6 1654.6 478.0C1655.0 476.4 1655.5 474.8 1655.9 473.2C1656.3 471.6 1656.8 470.0 1657.2 468.4C1657.6 466.8 1658.0 465.1 1658.4 463.5C1658.8 461.9 1659.3 460.3 1659.7 458.7C1660.1 457.1 1660.6 455.5 1661.0 453.9C1661.4 452.3 1661.8 450.6 1662.3 449.0C1662.8 447.4 1663.2 445.8 1663.7 444.2C1664.2 442.6 1664.5 441.0 1665.0 439.4C1665.5 437.8 1665.9 436.2 1666.4 434.6C1666.9 433.0 1667.3 431.4 1667.8 429.8C1668.3 428.2 1668.7 426.6 1669.2 425.0C1669.7 423.4 1670.2 421.9 1670.7 420.3C1671.2 418.7 1671.8 417.1 1672.3 415.5C1672.8 413.9 1673.4 412.4 1673.9 410.8C1674.5 409.2 1675.0 407.7 1675.6 406.1C1676.2 404.5 1676.8 402.9 1677.4 401.4C1678.0 399.8 1678.6 398.3 1679.3 396.8C1680.0 395.3 1680.7 393.7 1681.4 392.2C1682.1 390.7 1682.8 389.2 1683.6 387.7C1684.4 386.2 1685.2 384.7 1686.0 383.3C1686.8 381.9 1687.7 380.5 1688.6 379.1C1689.5 377.7 1690.5 376.3 1691.5 375.0C1692.5 373.7 1693.6 372.4 1694.7 371.2C1695.8 370.0 1697.0 368.8 1698.2 367.7C1699.4 366.6 1700.7 365.5 1702.1 364.5C1703.5 363.5 1704.9 362.7 1706.4 361.9C1707.9 361.1 1709.4 360.4 1710.9 359.8C1712.4 359.2 1714.0 358.7 1715.6 358.2C1717.2 357.7 1718.9 357.3 1720.5 357.0C1722.1 356.7 1723.8 356.4 1725.4 356.2C1727.1 356.0 1728.7 355.8 1730.4 355.7C1732.1 355.6 1733.7 355.6 1735.4 355.5C1737.1 355.4 1738.7 355.4 1740.4 355.4C1742.1 355.4 1743.7 355.4 1745.4 355.4C1747.1 355.4 1748.7 355.4 1750.4 355.4C1752.1 355.4 1753.7 355.4 1755.4 355.5C1757.1 355.6 1758.7 355.6 1760.4 355.7C1762.1 355.8 1763.7 355.8 1765.4 355.9C1767.1 356.0 1768.7 356.0 1770.4 356.1C1772.1 356.2 1773.7 356.3 1775.4 356.4C1777.1 356.5 1778.7 356.6 1780.4 356.7C1782.1 356.8 1783.8 357.0 1785.4 357.2C1787.1 357.4 1788.7 357.5 1790.3 357.7C1791.9 357.9 1793.6 358.1 1795.3 358.3C1797.0 358.6 1798.6 358.9 1800.2 359.2C1801.8 359.5 1803.5 359.8 1805.1 360.1C1806.7 360.5 1808.4 360.9 1810.0 361.3C1811.6 361.7 1813.2 362.2 1814.8 362.7C1816.4 363.2 1817.9 363.7 1819.5 364.3C1821.1 364.9 1822.7 365.6 1824.2 366.2C1825.7 366.8 1827.2 367.5 1828.7 368.2C1830.2 368.9 1831.7 369.7 1833.2 370.5C1834.7 371.3 1836.1 372.0 1837.5 372.9C1838.9 373.8 1840.4 374.7 1841.8 375.6C1843.2 376.5 1844.6 377.4 1845.9 378.4C1847.2 379.4 1848.6 380.4 1849.9 381.5C1851.2 382.6 1852.5 383.6 1853.7 384.7C1854.9 385.8 1856.1 386.9 1857.3 388.1C1858.5 389.3 1859.6 390.5 1860.8 391.7C1862.0 392.9 1863.1 394.1 1864.2 395.4C1865.3 396.6 1866.4 397.9 1867.4 399.2C1868.4 400.5 1869.4 401.9 1870.4 403.2C1871.4 404.5 1872.4 405.8 1873.4 407.2C1874.4 408.6 1875.4 409.9 1876.3 411.3C1877.2 412.7 1878.1 414.1 1879.0 415.5C1879.9 416.9 1880.8 418.3 1881.7 419.7C1882.6 421.1 1883.4 422.6 1884.3 424.0C1885.2 425.4 1886.1 426.9 1886.9 428.3C1887.7 429.7 1888.5 431.2 1889.3 432.6C1890.1 434.1 1891.0 435.5 1891.8 437.0C1892.6 438.5 1893.4 439.9 1894.2 441.4C1895.0 442.9 1895.7 444.3 1896.5 445.8C1897.3 447.3 1898.0 448.7 1898.8 450.2C1899.6 451.7 1900.4 453.1 1901.2 454.6C1902.0 456.1 1902.7 457.6 1903.4 459.1C1904.2 460.6 1904.9 462.0 1905.7 463.5C1906.5 465.0 1907.2 466.5 1908.0 468.0C1908.8 469.5 1909.5 470.9 1910.3 472.4C1911.0 473.9 1911.8 475.4 1912.5 476.9C1913.2 478.4 1914.0 479.9 1914.8 481.4C1915.5 482.9 1916.2 484.3 1917.0 485.8C1917.8 487.3 1918.5 488.8 1919.3 490.3C1920.1 491.8 1920.8 493.2 1921.6 494.7C1922.4 496.2 1923.1 497.7 1923.9 499.2C1924.7 500.7 1925.4 502.1 1926.2 503.6C1927.0 505.1 1927.8 506.5 1928.6 508.0C1929.4 509.5 1930.1 510.9 1930.9 512.4C1931.7 513.9 1932.5 515.3 1933.3 516.8C1934.1 518.3 1934.9 519.7 1935.7 521.2C1936.5 522.7 1937.2 524.1 1938.0 525.6C1938.8 527.1 1939.6 528.5 1940.4 530.0C1941.2 531.5 1942.0 532.9 1942.8 534.4C1943.6 535.9 1944.5 537.3 1945.3 538.8C1946.1 540.2 1946.9 541.6 1947.7 543.1C1948.5 544.6 1949.4 546.0 1950.2 547.5C1951.0 549.0 1951.8 550.3 1952.6 551.8C1953.4 553.2 1954.3 554.8 1955.1 556.2C1955.9 557.7 1956.8 559.1 1957.6 560.5C1958.4 561.9 1959.2 563.4 1960.1 564.8C1960.9 566.2 1961.8 567.7 1962.7 569.1C1963.6 570.5 1964.4 572.0 1965.2 573.4C1966.0 574.8 1966.9 576.3 1967.7 577.8C1968.5 579.2 1969.4 580.7 1970.2 582.1C1971.0 583.5 1971.9 585.0 1972.7 586.4C1973.5 587.8 1974.5 589.2 1975.3 590.7C1976.1 592.2 1977.0 593.7 1977.8 595.1C1978.6 596.5 1979.5 598.0 1980.3 599.4C1981.1 600.8 1982.0 602.2 1982.8 603.7C1983.6 605.2 1984.4 606.7 1985.2 608.1C1986.0 609.5 1986.9 611.0 1987.7 612.4C1988.5 613.8 1989.4 615.2 1990.2 616.7C1991.0 618.2 1991.9 619.6 1992.7 621.1C1993.5 622.6 1994.3 624.0 1995.1 625.5C1995.9 627.0 1996.7 628.3 1997.5 629.8C1998.3 631.2 1999.1 632.7 1999.9 634.2C2000.7 635.7 2001.5 637.1 2002.3 638.6C2003.1 640.1 2003.8 641.6 2004.6 643.1C2005.3 644.6 2006.1 646.1 2006.8 647.6C2007.5 649.1 2008.2 650.6 2008.9 652.1C2009.6 653.6 2010.3 655.1 2011.0 656.6C2011.7 658.1 2012.4 659.7 2013.1 661.2C2013.8 662.7 2014.5 664.2 2015.2 665.7C2015.9 667.2 2016.5 668.8 2017.2 670.3C2017.9 671.8 2018.6 673.3 2019.3 674.8C2020.0 676.3 2020.6 677.9 2021.3 679.4C2022.0 680.9 2022.7 682.4 2023.4 683.9C2024.1 685.4 2024.8 687.0 2025.5 688.5C2026.2 690.0 2026.9 691.5 2027.6 693.0C2028.3 694.5 2029.0 696.1 2029.7 697.6C2030.4 699.1 2031.1 700.6 2031.8 702.1C2032.5 703.6 2033.2 705.1 2033.9 706.6C2034.6 708.1 2035.3 709.7 2036.0 711.2C2036.7 712.7 2037.4 714.2 2038.1 715.7C2038.8 717.2 2039.5 718.7 2040.2 720.2C2040.9 721.7 2041.6 723.3 2042.3 724.8C2043.0 726.3 2043.7 727.8 2044.4 729.3C2045.1 730.8 2045.8 732.4 2046.5 733.9C2047.2 735.4 2047.8 736.9 2048.5 738.4C2049.2 739.9 2049.9 741.5 2050.6 743.0C2051.3 744.5 2051.9 746.1 2052.6 747.6C2053.3 749.1 2053.9 750.6 2054.6 752.1C2055.3 753.6 2056.0 755.2 2056.7 756.7C2057.4 758.2 2058.0 759.8 2058.7 761.3C2059.4 762.8 2060.1 764.3 2060.8 765.8C2061.5 767.3 2062.2 768.8 2062.9 770.3C2063.6 771.8 2064.3 773.4 2065.0 774.9C2065.7 776.4 2066.5 777.9 2067.2 779.4C2067.9 780.9 2068.7 782.4 2069.4 783.9C2070.1 785.4 2070.8 786.8 2071.6 788.3C2072.3 789.8 2073.1 791.3 2073.9 792.8C2074.7 794.3 2075.6 795.6 2076.4 797.1C2077.2 798.6 2078.1 800.1 2078.9 801.5C2079.8 802.9 2080.6 804.3 2081.5 805.7C2082.4 807.1 2083.4 808.5 2084.3 809.9C2085.2 811.3 2086.2 812.6 2087.2 813.9C2088.2 815.2 2089.2 816.6 2090.2 817.9C2091.2 819.2 2092.3 820.5 2093.4 821.8C2094.5 823.1 2095.6 824.3 2096.7 825.5C2097.8 826.7 2098.9 828.0 2100.1 829.2C2101.3 830.4 2102.5 831.6 2103.7 832.7C2104.9 833.9 2106.1 835.0 2107.3 836.1C2108.5 837.2 2109.8 838.4 2111.0 839.5C2112.2 840.6 2113.5 841.6 2114.8 842.7C2116.1 843.8 2117.4 844.9 2118.7 845.9C2120.0 846.9 2121.3 848.0 2122.6 849.0C2123.9 850.0 2125.2 851.1 2126.5 852.1C2127.8 853.1 2129.2 854.2 2130.5 855.2C2131.8 856.2 2133.2 857.1 2134.5 858.1C2135.8 859.1 2137.2 860.1 2138.6 861.1C2140.0 862.1 2141.3 863.0 2142.7 863.9C2144.1 864.8 2145.4 865.8 2146.8 866.7C2148.2 867.6 2149.6 868.6 2151.0 869.5C2152.4 870.4 2153.7 871.4 2155.1 872.3C2156.5 873.2 2158.6 874.5 2159.3 875.0"/>
<path stroke="#009600" d="M382.9 587.4C383.7 587.3 386.2 586.9 387.9 586.6C389.5 586.3 391.2 586.0 392.8 585.8C394.4 585.5 396.1 585.4 397.7 585.1C399.3 584.9 401.0 584.5 402.7 584.3C404.4 584.0 406.0 583.8 407.6 583.6C409.2 583.4 411.0 583.1 412.6 582.9C414.2 582.7 415.9 582.5 417.5 582.3C419.1 582.1 420.8 581.8 422.5 581.6C424.2 581.4 425.9 581.2 427.5 581.0C429.1 580.8 430.8 580.7 432.4 580.5C434.0 580.3 435.7 580.1 437.4 579.9C439.1 579.7 440.8 579.5 442.4 579.3C444.0 579.1 445.6 579.0 447.3 578.8C449.0 578.6 450.6 578.4 452.3 578.2C454.0 578.0 455.7 577.9 457.3 577.7C458.9 577.5 460.6 577.3 462.2 577.1C463.8 576.9 465.5 576.8 467.2 576.6C468.9 576.4 470.5 576.3 472.2 576.1C473.9 575.9 475.5 575.8 477.2 575.6C478.9 575.5 480.5 575.3 482.2 575.2C483.9 575.1 485.5 574.9 487.1 574.8C488.8 574.7 490.4 574.5 492.1 574.4C493.8 574.3 495.4 574.2 497.1 574.1C498.8 574.0 500.4 574.0 502.1 573.9C503.8 573.8 505.4 573.8 507.1 573.8C508.8 573.8 510.4 573.9 512.1 573.9C513.8 573.9 515.4 573.9 517.1 574.0C518.8 574.1 520.4 574.2 522.1 574.4C523.8 574.6 525.5 574.8 527.1 575.0C528.8 575.2 530.4 575.5 532.0 575.8C533.6 576.1 535.3 576.5 536.9 576.9C538.5 577.3 540.1 577.7 541.7 578.2C543.3 578.7 544.9 579.2 546.4 579.8C547.9 580.4 549.5 581.0 551.0 581.7C552.5 582.4 554.0 583.1 555.5 583.9C557.0 584.7 558.5 585.5 559.9 586.4C561.3 587.3 562.7 588.1 564.1 589.1C565.5 590.1 566.8 591.1 568.1 592.1C569.4 593.1 570.6 594.2 571.9 595.3C573.1 596.4 574.4 597.5 575.6 598.7C576.8 599.9 578.0 601.1 579.1 602.3C580.2 603.5 581.3 604.8 582.4 606.1C583.5 607.4 584.5 608.7 585.5 610.0C586.5 611.3 587.5 612.6 588.5 614.0C589.5 615.4 590.4 616.7 591.3 618.1C592.2 619.5 593.1 620.9 594.0 622.3C594.9 623.7 595.8 625.2 596.6 626.6C597.5 628.0 598.3 629.5 599.1 630.9C599.9 632.3 600.7 633.8 601.5 635.3C602.3 636.8 603.0 638.3 603.7 639.8C604.4 641.3 605.2 642.8 605.9 644.3C606.6 645.8 607.3 647.3 608.0 648.8C608.7 650.3 609.4 651.9 610.1 653.4C610.8 654.9 611.5 656.4 612.1 657.9C612.8 659.4 613.4 661.0 614.0 662.6C614.6 664.2 615.3 665.7 615.9 667.2C616.5 668.7 617.1 670.2 617.7 671.8C618.3 673.3 618.9 674.9 619.5 676.5C620.1 678.1 620.7 679.6 621.3 681.2C621.9 682.8 622.4 684.3 623.0 685.9C623.6 687.5 624.2 689.0 624.7 690.6C625.2 692.2 625.8 693.7 626.3 695.3C626.8 696.9 627.4 698.5 627.9 700.1C628.4 701.7 629.0 703.2 629.5 704.8C630.0 706.4 630.5 708.0 631.0 709.6C631.5 711.2 632.0 712.7 632.5 714.3C633.0 715.9 633.5 717.5 634.0 719.1C634.5 720.7 634.9 722.3 635.4 723.9C635.9 725.5 636.3 727.1 636.8 728.7C637.3 730.3 637.7 731.9 638.2 733.5C638.7 735.1 639.2 736.7 639.6 738.3C640.0 739.9 640.5 741.5 640.9 743.1C641.3 744.7 641.8 746.3 642.3 747.9C642.8 749.5 643.2 751.2 643.6 752.8C644.0 754.4 644.5 756.0 644.9 757.6C645.3 759.2 645.7 760.8 646.1 762.4C646.5 764.0 647.0 765.7 647.4 767.3C647.8 768.9 648.3 770.5 648.7 772.1C649.1 773.7 649.6 775.3 650.0 776.9C650.4 778.5 650.8 780.2 651.2 781.8C651.6 783.4 652.1 785.0 652.5 786.6C652.9 788.2 653.4 789.9 653.8 791.5C654.2 793.1 654.6 794.7 655.0 796.3C655.4 797.9 655.9 799.5 656.3 801.1C656.7 802.7 657.1 804.3 657.6 805.9C658.1 807.5 658.5 809.2 659.0 810.8C659.5 812.4 659.9 814.0 660.4 815.6C660.9 817.2 661.2 818.8 661.7 820.4C662.2 822.0 662.7 823.6 663.2 825.2C663.7 826.8 664.2 828.3 664.7 829.9C665.2 831.5 665.7 833.1 666.2 834.7C666.7 836.3 667.2 837.9 667.7 839.5C668.2 841.1 668.8 842.6 669.3 844.2C669.8 845.8 670.4 847.4 670.9 849.0C671.4 850.6 672.0 852.1 672.5 853.7C673.0 855.3 673.6 856.8 674.1 858.4C674.6 860.0 675.2 861.5 675.8 863.1C676.4 864.7 676.9 866.2 677.5 867.8C678.1 869.4 678.6 870.9 679.2 872.5C679.8 874.1 680.4 875.7 681.0 877.2C681.6 878.8 682.2 880.2 682.8 881.8C683.4 883.3 684.1 885.0 684.7 886.5C685.3 888.0 686.0 889.6 686.6 891.1C687.2 892.6 687.9 894.2 688.5 895.7C689.1 897.2 689.8 898.8 690.5 900.3C691.2 901.8 691.9 903.3 692.6 904.8C693.3 906.3 694.0 907.8 694.8 909.3C695.5 910.8 696.3 912.3 697.1 913.8C697.9 915.3 698.6 916.8 699.4 918.2C700.2 919.7 701.0 921.1 701.9 922.5C702.8 923.9 703.6 925.4 704.5 926.8C705.4 928.2 706.3 929.6 707.3 931.0C708.2 932.4 709.2 933.8 710.2 935.1C711.2 936.4 712.2 937.7 713.2 939.0C714.2 940.3 715.3 941.6 716.4 942.9C717.5 944.2 718.6 945.4 719.7 946.6C720.8 947.8 722.0 948.9 723.2 950.1C724.4 951.3 725.6 952.5 726.9 953.6C728.1 954.7 729.4 955.8 730.7 956.8C732.0 957.8 733.3 958.9 734.6 959.9C735.9 960.9 737.3 961.9 738.7 962.9C740.1 963.9 741.4 964.7 742.8 965.6C744.2 966.5 745.7 967.4 747.1 968.2C748.5 969.1 749.9 969.9 751.4 970.7C752.9 971.5 754.4 972.3 755.9 973.0C757.4 973.7 758.9 974.4 760.4 975.1C761.9 975.8 763.5 976.5 765.0 977.2C766.5 977.9 768.1 978.5 769.6 979.1C771.1 979.7 772.7 980.3 774.2 980.9C775.8 981.5 777.3 982.0 778.9 982.6C780.5 983.2 782.1 983.7 783.7 984.2C785.3 984.7 786.8 985.3 788.4 985.8C790.0 986.3 791.6 986.8 793.2 987.3C794.8 987.8 796.4 988.3 798.0 988.8C799.6 989.3 801.2 989.8 802.8 990.2C804.4 990.7 806.0 991.1 807.6 991.5C809.2 991.9 810.8 992.4 812.4 992.8C814.0 993.2 815.7 993.6 817.3 994.0C818.9 994.4 820.5 994.7 822.1 995.1C823.7 995.5 825.4 995.8 827.0 996.2C828.6 996.6 830.3 996.9 831.9 997.3C833.5 997.6 835.2 998.0 836.8 998.3C838.4 998.6 840.1 998.9 841.7 999.2C843.4 999.5 845.1 999.7 846.7 1000.0C848.4 1000.3 850.0 1000.5 851.6 1000.8C853.2 1001.0 854.9 1001.3 856.5 1001.5C858.1 1001.7 859.8 1001.9 861.5 1002.1C863.2 1002.3 864.8 1002.5 866.5 1002.7C868.2 1002.9 869.9 1003.1 871.5 1003.2C873.1 1003.4 874.8 1003.5 876.4 1003.6C878.0 1003.7 879.7 1003.8 881.4 1003.9C883.1 1004.0 884.7 1004.1 886.4 1004.2C888.1 1004.3 889.7 1004.4 891.4 1004.5C893.1 1004.6 894.7 1004.7 896.4 1004.7C898.1 1004.8 899.7 1004.8 901.4 1004.8C903.1 1004.8 904.7 1004.9 906.4 1004.9C908.1 1004.9 909.7 1005.0 911.4 1005.0C913.1 1005.0 914.7 1005.0 916.4 1005.0C918.1 1005.0 919.7 1005.0 921.4 1005.0C923.1 1005.0 924.7 1004.9 926.4 1004.9C928.1 1004.9 929.7 1004.8 931.4 1004.8C933.1 1004.8 934.7 1004.8 936.4 1004.8C938.1 1004.8 939.7 1004.6 941.4 1004.6C943.1 1004.6 944.7 1004.5 946.4 1004.5C948.1 1004.5 949.7 1004.4 951.4 1004.4C953.1 1004.4 954.7 1004.3 956.4 1004.2C958.1 1004.1 959.7 1004.1 961.4 1004.0C963.1 1003.9 964.7 1003.9 966.4 1003.8C968.1 1003.7 969.7 1003.6 971.4 1003.5C973.1 1003.4 974.7 1003.3 976.4 1003.2C978.1 1003.1 979.8 1003.0 981.4 1002.9C983.0 1002.8 984.6 1002.7 986.3 1002.6C987.9 1002.5 989.6 1002.3 991.3 1002.2C993.0 1002.1 994.6 1001.9 996.3 1001.8C998.0 1001.7 999.6 1001.5 1001.3 1001.4C1003.0 1001.2 1004.6 1001.1 1006.3 1000.9C1007.9 1000.7 1009.6 1000.6 1011.2 1000.4C1012.9 1000.2 1014.5 1000.0 1016.2 999.8C1017.9 999.6 1019.6 999.5 1021.2 999.3C1022.9 999.1 1024.4 998.9 1026.1 998.7C1027.8 998.5 1029.4 998.3 1031.1 998.1C1032.8 997.9 1034.4 997.6 1036.1 997.4C1037.8 997.2 1039.3 997.0 1041.0 996.8C1042.7 996.6 1044.3 996.3 1046.0 996.1C1047.7 995.9 1049.2 995.7 1050.9 995.5C1052.6 995.3 1054.2 995.0 1055.9 994.8C1057.6 994.6 1059.2 994.3 1060.8 994.1C1062.4 993.9 1064.1 993.7 1065.8 993.5C1067.5 993.3 1069.1 993.0 1070.8 992.8C1072.5 992.6 1074.0 992.4 1075.7 992.2C1077.4 992.0 1079.1 991.7 1080.7 991.5C1082.3 991.3 1083.9 991.1 1085.6 990.9C1087.2 990.7 1088.9 990.5 1090.6 990.3C1092.3 990.1 1093.9 989.9 1095.6 989.7C1097.2 989.5 1098.8 989.3 1100.5 989.1C1102.2 988.9 1103.8 988.7 1105.5 988.5C1107.2 988.3 1108.8 988.1 1110.5 987.9C1112.2 987.7 1113.8 987.5 1115.4 987.3C1117.1 987.1 1118.7 986.9 1120.4 986.7C1122.1 986.5 1123.8 986.3 1125.4 986.1C1127.1 985.9 1128.7 985.7 1130.3 985.5C1131.9 985.3 1133.6 985.1 1135.3 984.9C1137.0 984.7 1138.5 984.6 1140.2 984.4C1141.9 984.2 1143.5 984.0 1145.2 983.8C1146.9 983.6 1148.6 983.4 1150.2 983.2C1151.8 983.0 1153.4 982.8 1155.1 982.6C1156.8 982.4 1158.4 982.2 1160.1 982.0C1161.8 981.8 1163.4 981.6 1165.1 981.4C1166.8 981.2 1168.3 981.0 1170.0 980.8C1171.7 980.6 1173.3 980.4 1175.0 980.2C1176.7 980.0 1178.3 979.8 1180.0 979.6C1181.7 979.4 1183.2 979.2 1184.9 979.0C1186.6 978.8 1188.2 978.6 1189.9 978.4C1191.6 978.2 1193.2 977.9 1194.8 977.7C1196.4 977.5 1198.1 977.3 1199.8 977.1C1201.5 976.9 1203.1 976.6 1204.8 976.4C1206.5 976.2 1208.0 975.9 1209.7 975.7C1211.4 975.5 1213.1 975.2 1214.7 975.0C1216.3 974.8 1217.9 974.5 1219.6 974.3C1221.2 974.0 1222.9 973.8 1224.6 973.5C1226.2 973.2 1227.9 973.0 1229.5 972.8C1231.1 972.5 1232.8 972.3 1234.4 972.0C1236.1 971.7 1237.8 971.5 1239.4 971.2C1241.1 971.0 1242.7 970.8 1244.3 970.5C1245.9 970.2 1247.6 970.0 1249.3 969.7C1251.0 969.4 1252.6 969.1 1254.2 968.9C1255.8 968.6 1257.4 968.4 1259.1 968.2C1260.8 968.0 1262.4 967.8 1264.1 967.5C1265.8 967.2 1267.3 966.9 1269.0 966.7C1270.7 966.5 1272.3 966.3 1274.0 966.1C1275.7 965.9 1277.2 965.6 1278.9 965.4C1280.6 965.2 1282.2 964.9 1283.9 964.7C1285.6 964.5 1287.2 964.3 1288.9 964.1C1290.6 963.9 1292.2 963.6 1293.8 963.4C1295.4 963.2 1297.1 962.9 1298.8 962.7C1300.5 962.5 1302.0 962.2 1303.7 962.0C1305.4 961.8 1307.1 961.5 1308.7 961.3C1310.3 961.1 1311.9 960.8 1313.6 960.6C1315.2 960.4 1316.9 960.1 1318.6 959.9C1320.2 959.7 1321.8 959.5 1323.5 959.3C1325.2 959.1 1326.8 958.9 1328.5 958.7C1330.2 958.5 1331.8 958.4 1333.5 958.2C1335.2 958.0 1336.8 957.9 1338.4 957.7C1340.1 957.6 1341.7 957.4 1343.4 957.3C1345.1 957.2 1346.7 957.2 1348.4 957.1C1350.1 957.0 1351.7 957.0 1353.4 956.9C1355.1 956.8 1356.7 956.8 1358.4 956.8C1360.1 956.8 1361.7 956.8 1363.4 956.8C1365.1 956.8 1366.7 956.8 1368.4 956.9C1370.1 957.0 1371.7 957.0 1373.4 957.1C1375.1 957.2 1376.7 957.2 1378.4 957.2C1380.1 957.2 1381.7 957.3 1383.4 957.3C1385.1 957.3 1386.7 957.4 1388.4 957.4C1390.1 957.4 1391.7 957.4 1393.4 957.4C1395.1 957.4 1396.7 957.3 1398.4 957.3C1400.1 957.3 1401.7 957.3 1403.4 957.2C1405.1 957.1 1406.7 957.0 1408.4 956.9C1410.1 956.8 1411.7 956.7 1413.4 956.6C1415.1 956.5 1416.8 956.3 1418.4 956.1C1420.1 955.9 1421.7 955.7 1423.3 955.5C1424.9 955.3 1426.6 955.1 1428.3 954.9C1430.0 954.7 1431.5 954.4 1433.2 954.1C1434.9 953.8 1436.6 953.6 1438.2 953.3C1439.8 953.0 1441.5 952.7 1443.1 952.4C1444.7 952.1 1446.4 951.8 1448.0 951.4C1449.6 951.0 1451.2 950.6 1452.8 950.2C1454.4 949.8 1456.1 949.4 1457.7 948.9C1459.3 948.4 1460.8 947.9 1462.4 947.4C1464.0 946.9 1465.5 946.3 1467.1 945.7C1468.6 945.1 1470.2 944.4 1471.7 943.7C1473.2 943.0 1474.8 942.2 1476.2 941.4C1477.7 940.6 1479.0 939.7 1480.4 938.8C1481.8 937.9 1483.1 936.8 1484.4 935.8C1485.7 934.8 1487.0 933.7 1488.2 932.6C1489.4 931.5 1490.7 930.2 1491.8 929.0C1492.9 927.8 1494.0 926.5 1495.0 925.2C1496.0 923.9 1497.0 922.6 1498.0 921.2C1499.0 919.8 1499.8 918.4 1500.7 917.0C1501.6 915.6 1502.4 914.2 1503.2 912.7C1504.0 911.2 1504.8 909.8 1505.6 908.3C1506.3 906.8 1507.0 905.3 1507.7 903.8C1508.4 902.3 1509.1 900.7 1509.8 899.2C1510.5 897.7 1511.1 896.2 1511.7 894.6C1512.3 893.0 1512.9 891.5 1513.5 889.9C1514.1 888.3 1514.6 886.8 1515.2 885.2C1515.8 883.6 1516.4 882.1 1516.9 880.5C1517.4 878.9 1517.9 877.4 1518.4 875.8C1518.9 874.2 1519.4 872.6 1519.9 871.0C1520.4 869.4 1520.8 867.8 1521.3 866.2C1521.8 864.6 1522.2 863.0 1522.7 861.4C1523.2 859.8 1523.6 858.2 1524.0 856.6C1524.4 855.0 1524.8 853.3 1525.2 851.7C1525.6 850.1 1526.1 848.5 1526.5 846.9C1526.9 845.3 1527.2 843.6 1527.6 842.0C1528.0 840.4 1528.4 838.7 1528.8 837.1C1529.2 835.5 1529.5 833.9 1529.9 832.3C1530.3 830.7 1530.7 829.0 1531.1 827.4C1531.5 825.8 1531.8 824.1 1532.2 822.5C1532.6 820.9 1532.9 819.3 1533.3 817.7C1533.7 816.1 1534.0 814.4 1534.4 812.8C1534.8 811.2 1535.2 809.5 1535.6 807.9C1536.0 806.3 1536.3 804.6 1536.7 803.0C1537.1 801.4 1537.4 799.8 1537.8 798.2C1538.2 796.6 1538.5 794.9 1538.9 793.3C1539.3 791.7 1539.7 790.0 1540.1 788.4C1540.5 786.8 1540.8 785.1 1541.1 783.5C1541.4 781.9 1541.9 780.2 1542.2 778.6C1542.5 777.0 1542.8 775.3 1543.1 773.7C1543.4 772.1 1543.7 770.4 1544.0 768.8C1544.3 767.2 1544.6 765.5 1544.9 763.9C1545.2 762.3 1545.4 760.6 1545.7 759.0C1546.0 757.4 1546.2 755.6 1546.5 754.0C1546.8 752.4 1547.0 750.7 1547.3 749.1C1547.6 747.5 1547.8 745.9 1548.1 744.2C1548.4 742.6 1548.6 740.9 1548.9 739.2C1549.2 737.6 1549.4 735.9 1549.7 734.3C1550.0 732.6 1550.2 730.9 1550.5 729.3C1550.8 727.6 1551.0 726.0 1551.3 724.4C1551.6 722.8 1551.9 721.1 1552.2 719.5C1552.5 717.9 1552.7 716.2 1553.0 714.6C1553.3 713.0 1553.6 711.2 1553.9 709.6C1554.2 708.0 1554.4 706.3 1554.7 704.7C1555.0 703.1 1555.3 701.4 1555.6 699.8C1555.9 698.2 1556.2 696.5 1556.5 694.9C1556.8 693.2 1557.1 691.5 1557.4 689.9C1557.7 688.2 1558.0 686.6 1558.3 685.0C1558.6 683.4 1558.8 681.7 1559.1 680.1C1559.4 678.5 1559.7 676.8 1560.0 675.2C1560.3 673.6 1560.6 671.9 1560.9 670.3C1561.2 668.6 1561.5 666.9 1561.8 665.3C1562.1 663.6 1562.3 662.0 1562.6 660.4C1562.9 658.8 1563.2 657.1 1563.5 655.5C1563.8 653.9 1564.1 652.2 1564.4 650.6C1564.7 649.0 1564.9 647.2 1565.2 645.6C1565.5 644.0 1565.8 642.3 1566.1 640.7C1566.4 639.1 1566.6 637.4 1566.9 635.8C1567.2 634.1 1567.4 632.4 1567.7 630.8C1568.0 629.1 1568.2 627.5 1568.5 625.9C1568.8 624.3 1569.0 622.6 1569.3 621.0C1569.6 619.4 1569.8 617.6 1570.1 616.0C1570.4 614.4 1570.6 612.7 1570.9 611.1C1571.2 609.5 1571.5 607.9 1571.7 606.2C1572.0 604.6 1572.2 602.9 1572.4 601.2C1572.7 599.6 1572.9 597.9 1573.2 596.3C1573.5 594.6 1573.7 592.9 1574.0 591.3C1574.3 589.6 1574.5 588.0 1574.8 586.4C1575.1 584.8 1575.3 583.1 1575.6 581.5C1575.9 579.9 1576.1 578.1 1576.4 576.5C1576.7 574.9 1577.0 573.2 1577.3 571.6C1577.6 570.0 1577.8 568.3 1578.1 566.7C1578.4 565.1 1578.7 563.4 1579.0 561.8C1579.3 560.1 1579.5 558.4 1579.8 556.8C1580.1 555.1 1580.4 553.5 1580.7 551.9C1581.0 550.3 1581.3 548.6 1581.6 547.0C1581.9 545.4 1582.1 543.8 1582.4 542.1C1582.7 540.5 1583.0 538.8 1583.3 537.1C1583.6 535.5 1583.9 533.8 1584.2 532.2C1584.5 530.6 1584.7 528.9 1585.0 527.3C1585.3 525.7 1585.6 524.0 1585.9 522.4C1586.2 520.8 1586.5 519.0 1586.8 517.4C1587.1 515.8 1587.3 514.1 1587.6 512.5C1587.9 510.9 1588.2 509.2 1588.5 507.6C1588.8 506.0 1589.1 504.4 1589.4 502.7C1589.7 501.0 1589.9 499.3 1590.2 497.7C1590.5 496.1 1590.8 494.4 1591.1 492.8C1591.4 491.2 1591.7 489.5 1592.0 487.9C1592.3 486.3 1592.5 484.6 1592.8 483.0C1593.1 481.4 1593.4 479.6 1593.7 478.0C1594.0 476.4 1594.3 474.7 1594.6 473.1C1594.9 471.5 1595.2 469.8 1595.5 468.2C1595.8 466.6 1596.0 464.9 1596.3 463.3C1596.6 461.7 1596.9 460.0 1597.2 458.4C1597.5 456.8 1597.8 455.0 1598.1 453.4C1598.4 451.8 1598.6 450.1 1598.9 448.5C1599.2 446.9 1599.5 445.2 1599.8 443.6C1600.1 442.0 1600.4 440.4 1600.7 438.7C1601.0 437.0 1601.2 435.3 1601.5 433.7C1601.8 432.1 1602.1 430.4 1602.4 428.8C1602.7 427.2 1603.0 425.5 1603.3 423.9C1603.6 422.3 1603.8 420.6 1604.1 419.0C1604.4 417.4 1604.7 415.6 1605.0 414.0C1605.3 412.4 1605.5 410.7 1605.8 409.1C1606.1 407.5 1606.4 405.9 1606.7 404.2C1607.0 402.5 1607.2 400.8 1607.5 399.2C1607.8 397.6 1608.1 395.9 1608.4 394.3C1608.7 392.7 1608.9 391.0 1609.2 389.4C1609.5 387.8 1609.8 386.1 1610.1 384.5C1610.4 382.9 1610.6 381.1 1610.9 379.5C1611.2 377.9 1611.5 376.2 1611.8 374.6C1612.1 373.0 1612.4 371.3 1612.7 369.7C1613.0 368.1 1613.2 366.4 1613.5 364.8C1613.8 363.2 1614.1 361.5 1614.4 359.8C1614.7 358.1 1615.0 356.5 1615.3 354.9C1615.6 353.3 1616.0 351.6 1616.3 350.0C1616.6 348.4 1616.9 346.7 1617.2 345.1C1617.5 343.5 1617.9 341.8 1618.2 340.2C1618.5 338.6 1618.9 336.9 1619.2 335.3C1619.5 333.7 1619.9 332.0 1620.2 330.4C1620.5 328.8 1621.0 327.1 1621.3 325.5C1621.6 323.9 1621.9 322.2 1622.3 320.6C1622.7 319.0 1623.0 317.4 1623.4 315.8C1623.8 314.2 1624.1 312.5 1624.5 310.9C1624.9 309.3 1625.2 307.6 1625.6 306.0C1626.0 304.4 1626.3 302.7 1626.7 301.1C1627.1 299.5 1627.4 297.9 1627.8 296.3C1628.2 294.7 1628.6 293.0 1629.0 291.4C1629.4 289.8 1629.7 288.1 1630.1 286.5C1630.5 284.9 1630.9 283.3 1631.3 281.7C1631.7 280.1 1632.1 278.4 1632.5 276.8C1632.9 275.2 1633.3 273.5 1633.7 271.9C1634.1 270.3 1634.5 268.7 1634.9 267.1C1635.3 265.5 1635.8 263.9 1636.2 262.3C1636.6 260.7 1637.1 259.0 1637.5 257.4C1637.9 255.8 1638.4 254.2 1638.8 252.6C1639.2 251.0 1639.7 249.4 1640.1 247.8C1640.5 246.2 1641.0 244.6 1641.4 243.0C1641.9 241.4 1642.3 239.8 1642.8 238.2C1643.3 236.6 1643.7 235.0 1644.2 233.4C1644.7 231.8 1645.1 230.2 1645.6 228.6C1646.1 227.0 1646.6 225.4 1647.1 223.8C1647.6 222.2 1648.1 220.6 1648.6 219.0C1649.1 217.4 1649.7 215.9 1650.2 214.3C1650.7 212.7 1651.2 211.1 1651.8 209.5C1652.3 207.9 1652.9 206.4 1653.5 204.8C1654.1 203.2 1654.7 201.8 1655.3 200.2C1655.9 198.6 1656.5 197.1 1657.1 195.5C1657.7 193.9 1658.4 192.4 1659.1 190.9C1659.8 189.4 1660.5 187.9 1661.2 186.4C1661.9 184.9 1662.6 183.4 1663.4 181.9C1664.2 180.4 1665.0 178.9 1665.8 177.5C1666.6 176.1 1667.5 174.6 1668.4 173.2C1669.3 171.8 1670.2 170.4 1671.2 169.1C1672.2 167.8 1673.2 166.5 1674.3 165.2C1675.4 163.9 1676.5 162.7 1677.7 161.5C1678.9 160.3 1680.1 159.2 1681.4 158.1C1682.7 157.0 1683.9 156.0 1685.3 155.1C1686.7 154.2 1688.1 153.3 1689.6 152.5C1691.1 151.7 1692.5 151.0 1694.1 150.4C1695.6 149.8 1697.3 149.2 1698.9 148.7C1700.5 148.2 1702.1 147.8 1703.7 147.5C1705.3 147.2 1706.9 146.9 1708.6 146.7C1710.2 146.5 1711.9 146.4 1713.6 146.3C1715.3 146.2 1716.9 146.1 1718.6 146.1C1720.3 146.1 1721.9 146.2 1723.6 146.3C1725.3 146.4 1726.9 146.6 1728.6 146.8C1730.3 147.0 1731.9 147.1 1733.6 147.4C1735.2 147.7 1736.9 148.1 1738.5 148.4C1740.1 148.8 1741.7 149.1 1743.3 149.5C1744.9 149.9 1746.5 150.4 1748.1 150.9C1749.7 151.4 1751.3 151.9 1752.9 152.5C1754.5 153.1 1756.0 153.7 1757.5 154.4C1759.0 155.1 1760.5 155.8 1762.0 156.5C1763.5 157.2 1765.0 158.1 1766.4 158.9C1767.9 159.7 1769.3 160.5 1770.7 161.4C1772.1 162.3 1773.5 163.2 1774.9 164.2C1776.3 165.1 1777.6 166.1 1778.9 167.1C1780.2 168.1 1781.6 169.1 1782.9 170.2C1784.2 171.3 1785.5 172.4 1786.7 173.5C1788.0 174.6 1789.2 175.7 1790.4 176.8C1791.6 177.9 1792.8 179.1 1794.0 180.3C1795.2 181.5 1796.3 182.7 1797.4 183.9C1798.5 185.1 1799.6 186.4 1800.7 187.7C1801.8 189.0 1803.0 190.2 1804.0 191.5C1805.0 192.8 1806.0 194.1 1807.0 195.4C1808.0 196.7 1809.0 198.0 1810.0 199.4C1811.0 200.8 1812.0 202.2 1812.9 203.6C1813.8 205.0 1814.7 206.3 1815.6 207.7C1816.5 209.1 1817.3 210.6 1818.2 212.0C1819.1 213.4 1820.0 214.9 1820.8 216.3C1821.6 217.7 1822.5 219.2 1823.3 220.6C1824.1 222.0 1824.9 223.5 1825.7 225.0C1826.5 226.5 1827.3 227.9 1828.1 229.4C1828.9 230.9 1829.6 232.3 1830.4 233.8C1831.2 235.3 1832.0 236.7 1832.8 238.2C1833.6 239.7 1834.3 241.1 1835.1 242.6C1835.9 244.1 1836.7 245.6 1837.5 247.1C1838.3 248.6 1839.0 250.0 1839.8 251.5C1840.6 253.0 1841.3 254.4 1842.1 255.9C1842.9 257.4 1843.6 258.9 1844.4 260.4C1845.2 261.9 1846.0 263.3 1846.7 264.8C1847.5 266.3 1848.2 267.8 1848.9 269.3C1849.7 270.8 1850.5 272.2 1851.2 273.7C1852.0 275.2 1852.7 276.7 1853.4 278.2C1854.1 279.7 1854.9 281.2 1855.6 282.7C1856.3 284.2 1857.0 285.7 1857.8 287.2C1858.5 288.7 1859.3 290.2 1860.1 291.7C1860.8 293.2 1861.6 294.6 1862.3 296.1C1863.0 297.6 1863.8 299.1 1864.5 300.6C1865.2 302.1 1866.0 303.6 1866.8 305.1C1867.6 306.6 1868.3 308.0 1869.1 309.5C1869.9 311.0 1870.6 312.4 1871.4 313.9C1872.2 315.4 1872.9 316.9 1873.7 318.4C1874.5 319.9 1875.2 321.3 1876.0 322.8C1876.8 324.3 1877.6 325.7 1878.4 327.2C1879.2 328.7 1879.9 330.2 1880.7 331.7C1881.5 333.2 1882.2 334.6 1883.0 336.1C1883.8 337.6 1884.5 339.1 1885.2 340.6C1885.9 342.1 1886.7 343.5 1887.4 345.0C1888.2 346.5 1889.0 348.0 1889.7 349.5C1890.5 351.0 1891.2 352.5 1891.9 354.0C1892.6 355.5 1893.4 357.0 1894.1 358.5C1894.8 360.0 1895.6 361.5 1896.3 363.0C1897.0 364.5 1897.8 366.0 1898.5 367.5C1899.2 369.0 1900.0 370.5 1900.7 372.0C1901.4 373.5 1902.2 375.0 1902.9 376.5C1903.6 378.0 1904.3 379.5 1905.0 381.0C1905.7 382.5 1906.5 384.0 1907.2 385.5C1907.9 387.0 1908.7 388.5 1909.4 390.0C1910.1 391.5 1910.8 393.0 1911.5 394.5C1912.2 396.0 1912.9 397.5 1913.6 399.0C1914.3 400.5 1915.1 402.0 1915.8 403.5C1916.5 405.0 1917.2 406.6 1917.9 408.1C1918.6 409.6 1919.3 411.1 1920.0 412.6C1920.7 414.1 1921.4 415.7 1922.1 417.2C1922.8 418.7 1923.5 420.2 1924.2 421.7C1924.9 423.2 1925.6 424.7 1926.3 426.2C1927.0 427.7 1927.7 429.3 1928.4 430.8C1929.1 432.3 1929.8 433.8 1930.5 435.3C1931.2 436.8 1931.9 438.3 1932.6 439.8C1933.3 441.3 1934.0 442.9 1934.7 444.4C1935.4 445.9 1936.1 447.4 1936.8 448.9C1937.5 450.4 1938.1 452.0 1938.8 453.5C1939.5 455.0 1940.2 456.5 1940.9 458.0C1941.6 459.5 1942.2 461.1 1942.9 462.6C1943.6 464.1 1944.3 465.7 1945.0 467.2C1945.7 468.7 1946.3 470.2 1947.0 471.7C1947.7 473.2 1948.3 474.8 1949.0 476.3C1949.7 477.8 1950.3 479.4 1951.0 480.9C1951.7 482.4 1952.3 484.0 1953.0 485.5C1953.7 487.0 1954.3 488.6 1955.0 490.1C1955.7 491.6 1956.3 493.1 1957.0 494.6C1957.7 496.1 1958.3 497.7 1959.0 499.2C1959.7 500.7 1960.2 502.2 1960.9 503.8C1961.6 505.4 1962.2 506.9 1962.9 508.5C1963.6 510.1 1964.2 511.6 1964.8 513.1C1965.4 514.6 1966.0 516.2 1966.7 517.7C1967.4 519.2 1968.1 520.8 1968.7 522.3C1969.3 523.8 1969.9 525.4 1970.6 526.9C1971.2 528.4 1971.9 530.0 1972.6 531.5C1973.2 533.0 1973.8 534.6 1974.5 536.1C1975.2 537.6 1975.8 539.2 1976.5 540.7C1977.2 542.2 1977.8 543.8 1978.4 545.3C1979.1 546.8 1979.7 548.4 1980.4 549.9C1981.1 551.4 1981.7 553.0 1982.4 554.5C1983.1 556.0 1983.8 557.6 1984.4 559.1C1985.1 560.6 1985.7 562.2 1986.3 563.7C1986.9 565.2 1987.6 566.7 1988.3 568.2C1989.0 569.7 1989.6 571.3 1990.3 572.8C1991.0 574.3 1991.7 575.9 1992.4 577.4C1993.1 578.9 1993.7 580.5 1994.4 582.0C1995.1 583.5 1995.7 585.1 1996.4 586.6C1997.1 588.1 1997.7 589.6 1998.4 591.1C1999.1 592.6 1999.8 594.2 2000.5 595.7C2001.2 597.2 2001.8 598.8 2002.5 600.3C2003.2 601.8 2003.8 603.3 2004.5 604.8C2005.2 606.3 2005.9 607.9 2006.6 609.4C2007.3 610.9 2007.9 612.4 2008.6 613.9C2009.3 615.4 2010.0 617.0 2010.7 618.5C2011.4 620.0 2012.1 621.5 2012.8 623.0C2013.5 624.5 2014.3 626.0 2015.0 627.5C2015.7 629.0 2016.4 630.6 2017.1 632.1C2017.8 633.6 2018.5 635.1 2019.2 636.6C2019.9 638.1 2020.6 639.7 2021.3 641.2C2022.0 642.7 2022.6 644.3 2023.2 645.8C2023.8 647.3 2024.5 648.9 2025.1 650.4C2025.7 651.9 2026.3 653.5 2026.9 655.0C2027.5 656.5 2028.2 658.2 2028.8 659.7C2029.4 661.2 2030.0 662.8 2030.7 664.3C2031.4 665.8 2032.1 667.4 2032.7 668.9C2033.3 670.4 2033.9 672.0 2034.6 673.5C2035.3 675.0 2036.0 676.6 2036.7 678.1C2037.4 679.6 2038.0 681.1 2038.7 682.6C2039.4 684.1 2040.2 685.6 2040.9 687.1C2041.6 688.6 2042.3 690.1 2043.0 691.6C2043.7 693.1 2044.5 694.6 2045.3 696.1C2046.1 697.6 2046.8 699.1 2047.6 700.6C2048.4 702.1 2049.2 703.5 2050.0 704.9C2050.8 706.3 2051.6 707.8 2052.4 709.3C2053.2 710.8 2054.1 712.2 2055.0 713.6C2055.9 715.0 2056.8 716.4 2057.7 717.8C2058.6 719.2 2059.5 720.5 2060.5 721.9C2061.5 723.2 2062.5 724.6 2063.5 725.9C2064.5 727.2 2065.6 728.5 2066.7 729.8C2067.8 731.1 2068.9 732.3 2070.1 733.5C2071.3 734.7 2072.5 735.9 2073.7 737.0C2074.9 738.1 2076.2 739.2 2077.5 740.2C2078.8 741.2 2080.2 742.1 2081.6 743.0C2083.0 743.9 2084.5 744.8 2086.0 745.5C2087.5 746.2 2088.9 746.9 2090.5 747.5C2092.1 748.1 2093.7 748.6 2095.3 749.1C2096.9 749.6 2098.5 749.9 2100.1 750.2C2101.7 750.5 2103.4 750.8 2105.1 751.0C2106.8 751.2 2108.3 751.4 2110.0 751.5C2111.7 751.6 2113.3 751.7 2115.0 751.7C2116.7 751.8 2118.3 751.8 2120.0 751.8C2121.7 751.8 2123.3 751.7 2125.0 751.7C2126.7 751.7 2128.3 751.7 2130.0 751.7C2131.7 751.7 2133.3 751.5 2135.0 751.5C2136.7 751.5 2138.3 751.4 2140.0 751.4C2141.7 751.4 2143.3 751.3 2145.0 751.3C2146.7 751.3 2148.3 751.2 2150.0 751.2C2151.7 751.2 2154.2 751.1 2155.0 751.1"/>
</g>
<g fill="none" stroke-width="7.0" stroke-linecap="round">
<path stroke="#f00000" d="M1018.2 154.0 H1185.3"/>
<path stroke="#036bb3" d="M1018.2 246.4 H1185.3"/>
<path stroke="#009600" d="M1018.2 339.1 H1185.3"/>
</g>
<text class="big" text-anchor="start" transform="translate(1204.4 178.6) scale(1 1.040)">0%</text>
<text class="big" text-anchor="start" transform="translate(1204.4 271.3) scale(1 1.040)">2%</text>
<text class="big" text-anchor="start" transform="translate(1204.4 363.9) scale(1 1.040)">4%</text>
</svg></body></html>
